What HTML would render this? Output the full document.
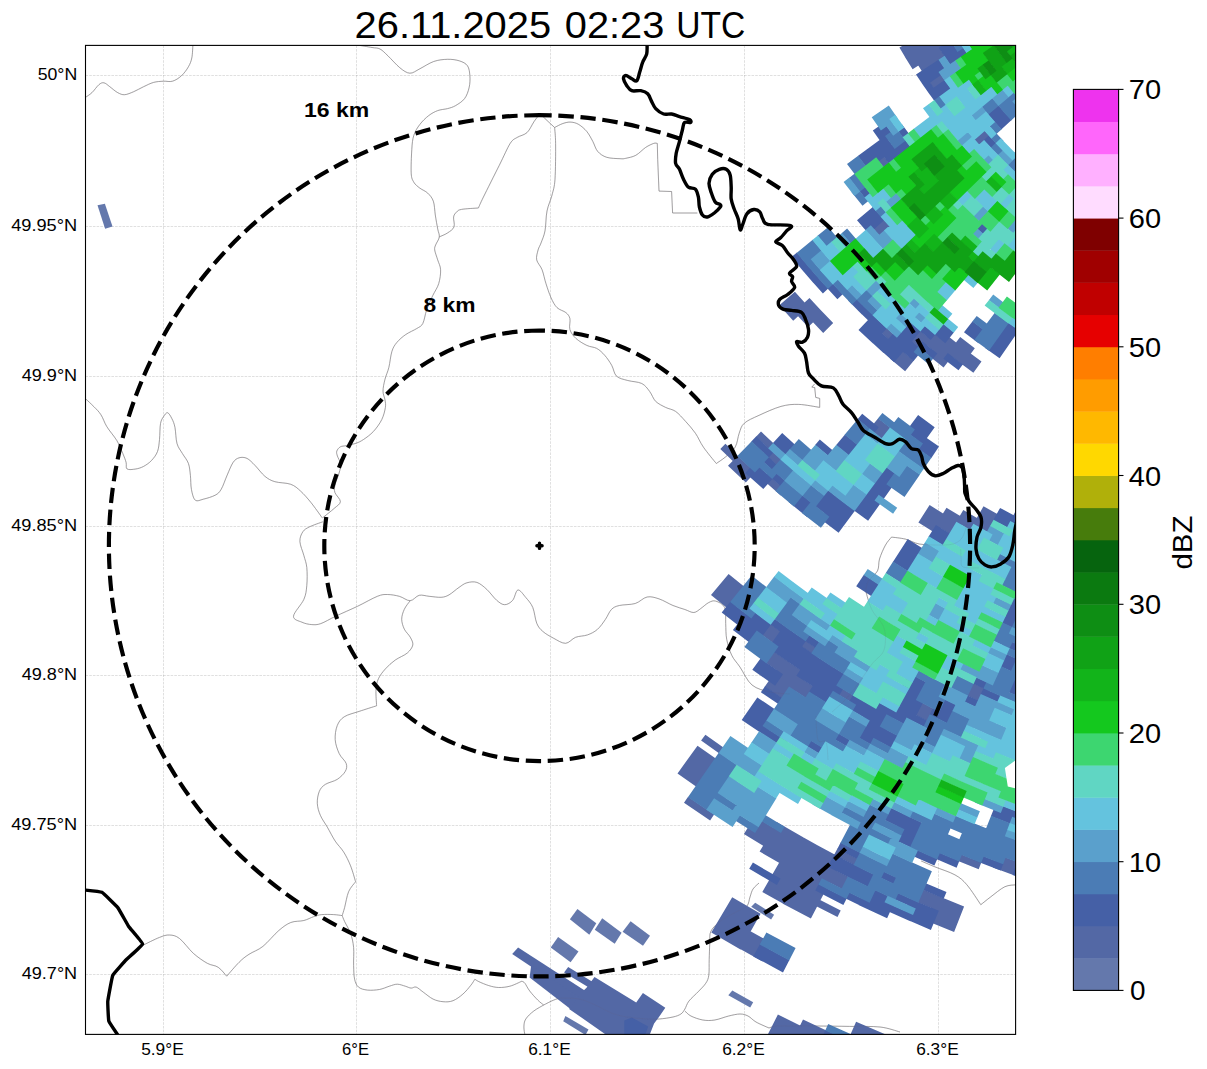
<!DOCTYPE html>
<html><head><meta charset="utf-8"><title>radar</title>
<style>
html,body{margin:0;padding:0;background:#fff;}
body{width:1207px;height:1069px;overflow:hidden;font-family:"Liberation Sans",sans-serif;}
svg{display:block;font-family:"Liberation Sans",sans-serif;}
</style></head><body>
<svg width="1207" height="1069" viewBox="0 0 1207 1069">
<rect width="1207" height="1069" fill="#fff"/>
<defs><clipPath id="ax"><rect x="85.5" y="45.4" width="930.1" height="989.0000000000001"/></clipPath></defs>
<g clip-path="url(#ax)">
<path d="M163.5 45.4V1034.4M356.5 45.4V1034.4M550.5 45.4V1034.4M744.5 45.4V1034.4M938.5 45.4V1034.4M85.5 75.5H1015.6M85.5 226.5H1015.6M85.5 376.5H1015.6M85.5 526.5H1015.6M85.5 675.5H1015.6M85.5 825.5H1015.6M85.5 974.5H1015.6" fill="none" stroke="#808080" stroke-opacity="0.42" stroke-width="0.6" stroke-dasharray="2.6 1.1"/>
<path d="M85.6 97.3C86.6 96.5 89.7 94.8 91.9 92.7C94.1 90.6 96.9 86.4 98.9 84.7C100.9 83.0 102.1 82.5 103.9 82.8C105.7 83.1 107.5 85.0 109.8 86.7C112.1 88.4 115.3 91.4 117.8 92.7C120.3 94.0 122.1 94.9 124.7 94.7C127.3 94.5 130.5 93.0 133.7 91.7C136.8 90.4 140.3 88.2 143.6 86.7C146.9 85.2 150.3 83.3 153.6 82.4C156.9 81.5 160.3 81.4 163.5 81.2C166.7 81.0 169.5 82.1 172.5 81.2C175.5 80.3 178.8 78.2 181.4 75.8C184.1 73.4 186.7 69.8 188.4 66.8C190.1 63.8 191.1 61.5 191.8 57.9C192.6 54.3 192.7 47.1 192.9 45.0M357.0 45.0C359.5 45.4 368.2 46.8 372.0 47.5C375.8 48.2 377.3 47.6 380.0 49.0C382.7 50.4 384.7 52.8 388.0 55.9C391.3 59.0 396.3 64.9 399.9 67.8C403.5 70.7 406.5 73.0 409.8 73.2C413.1 73.4 415.8 70.8 419.8 68.8C423.8 66.8 429.1 63.1 433.7 61.5C438.3 59.9 443.3 59.4 447.6 59.3C451.9 59.2 456.2 59.8 459.5 60.9C462.8 62.0 465.8 63.3 467.5 65.8C469.2 68.3 469.6 72.1 469.9 75.8C470.2 79.5 470.0 83.9 469.1 87.7C468.2 91.5 466.8 95.7 464.5 98.7C462.2 101.7 458.4 103.9 455.6 105.6C452.8 107.2 450.6 107.8 447.6 108.6C444.6 109.4 440.9 109.4 437.7 110.6C434.5 111.8 431.7 113.3 428.7 115.6C425.7 117.9 422.3 121.2 419.8 124.5C417.3 127.8 415.1 131.2 413.8 135.4C412.5 139.6 412.2 143.1 411.8 149.4C411.4 155.7 410.9 167.7 411.2 173.2C411.5 178.7 412.4 179.7 413.8 182.2C415.2 184.7 417.5 186.3 419.8 188.1C422.1 189.9 425.4 190.9 427.7 193.1C429.9 195.3 432.0 197.4 433.3 201.1C434.6 204.8 434.6 210.4 435.3 215.0C436.0 219.6 437.0 225.2 437.7 228.9C438.4 232.6 439.6 234.2 439.3 236.9C439.0 239.6 436.5 242.6 435.7 244.8C434.9 247.0 434.4 247.4 434.7 249.9C435.0 252.4 436.7 256.6 437.7 259.9C438.7 263.2 440.4 265.8 440.6 269.8C440.8 273.8 440.0 279.4 438.7 283.7C437.4 288.0 434.7 291.4 432.7 295.7C430.7 300.0 428.3 305.0 426.7 309.6C425.1 314.2 424.4 320.4 422.8 323.5C421.2 326.6 419.6 326.7 416.8 328.5C414.0 330.3 409.1 332.2 405.8 334.5C402.5 336.8 399.2 339.6 396.9 342.4C394.6 345.2 393.2 347.2 391.9 351.4C390.6 355.5 390.0 362.7 388.9 367.3C387.8 371.9 386.0 375.2 385.0 379.2C384.0 383.2 383.0 387.6 383.0 391.1C383.0 394.6 384.6 397.3 385.0 400.0C385.4 402.7 385.9 404.1 385.4 407.3C384.9 410.6 383.8 415.4 381.8 419.5C379.8 423.6 376.4 428.3 373.3 431.6C370.2 434.9 366.4 437.6 363.5 439.5C360.6 441.4 359.0 442.2 356.2 443.2C353.4 444.2 349.1 445.0 346.5 445.6C343.9 446.2 342.0 445.9 340.4 446.8C338.8 447.7 337.3 449.6 336.8 451.1C336.3 452.6 336.8 454.0 337.4 456.0C338.0 458.0 340.0 460.9 340.4 463.3C340.8 465.7 340.3 468.2 339.8 470.6C339.3 473.0 338.2 475.5 337.4 477.9C336.6 480.3 335.3 482.8 334.9 485.2C334.5 487.6 334.0 489.8 334.9 492.5C335.8 495.2 340.5 499.0 340.4 501.6C340.3 504.2 337.3 505.6 334.3 508.3C331.3 511.0 324.6 516.2 322.6 517.8M439.3 236.9C440.7 236.2 445.2 234.6 447.6 232.9C450.1 231.2 453.0 229.6 454.0 226.9C455.0 224.2 453.2 219.5 453.6 217.0C454.0 214.5 455.3 213.3 456.6 212.0C457.9 210.7 457.9 210.1 461.5 209.4C465.1 208.7 475.6 208.2 478.4 208.0M478.4 208.0C479.2 206.2 479.9 204.2 483.4 197.1C486.9 190.0 494.8 174.2 499.3 165.3C503.8 156.4 507.2 148.1 510.2 143.4C513.2 138.8 514.4 139.2 517.2 137.4C520.0 135.6 524.3 135.2 527.1 132.5C529.9 129.8 531.9 124.7 534.1 121.5C536.3 118.3 539.1 114.9 540.1 113.6M540.1 113.6C541.1 114.6 543.6 117.2 546.0 119.5C548.4 121.8 553.2 126.2 554.6 127.5M554.6 127.5C556.0 126.8 560.2 124.4 562.9 123.5C565.6 122.6 568.2 121.9 570.9 122.1C573.5 122.3 576.1 122.9 578.8 124.5C581.4 126.1 584.5 128.7 586.8 131.5C589.1 134.3 591.0 138.1 592.8 141.4C594.6 144.7 595.4 148.8 597.7 151.4C600.0 154.1 603.0 156.1 606.7 157.3C610.4 158.5 616.8 158.5 620.0 158.7C623.2 158.9 623.2 158.9 625.8 158.3C628.4 157.7 632.5 157.1 635.8 155.3C639.1 153.5 642.7 149.4 645.7 147.4C648.7 145.4 651.8 144.1 653.7 143.4C655.6 142.7 656.7 143.4 657.3 143.4M554.6 127.5C554.8 130.2 555.5 134.8 555.6 143.4C555.7 152.0 555.6 170.6 555.0 179.2C554.4 187.8 553.3 189.8 552.0 195.1C550.7 200.4 548.2 205.0 547.0 211.0C545.8 217.0 546.0 225.6 545.0 230.9C544.0 236.2 542.2 239.6 541.1 242.8C540.0 246.0 538.8 247.1 538.1 249.9C537.4 252.8 536.0 256.6 536.7 259.9C537.4 263.2 540.6 265.8 542.1 269.8C543.6 273.8 544.5 279.1 546.0 283.7C547.5 288.3 549.2 293.7 551.0 297.7C552.8 301.7 554.5 305.1 557.0 307.6C559.5 310.1 563.8 310.8 565.9 312.6C568.0 314.4 569.2 315.7 569.9 318.5C570.6 321.3 568.9 326.2 569.9 329.5C570.9 332.8 573.1 335.8 575.9 338.4C578.7 341.0 583.3 343.7 586.8 345.4C590.3 347.1 593.7 346.8 596.7 348.4C599.7 350.0 602.2 352.5 604.7 355.3C607.2 358.1 609.7 361.8 611.7 365.3C613.7 368.8 613.9 373.7 616.6 376.2C619.3 378.7 623.6 379.3 627.8 380.5C632.0 381.7 638.1 381.7 641.8 383.5C645.4 385.3 647.4 388.5 649.7 391.5C652.0 394.5 653.1 398.8 655.7 401.4C658.4 404.0 662.3 405.7 665.6 407.4C668.9 409.1 672.3 409.1 675.6 411.4C678.9 413.7 682.2 417.7 685.5 421.3C688.8 424.9 692.4 428.9 695.4 433.2C698.4 437.5 699.9 442.1 703.4 447.1C706.9 452.2 714.1 460.8 716.3 463.5M716.3 463.5C717.8 462.4 722.1 459.8 725.3 457.1C728.4 454.4 732.9 451.1 735.2 447.1C737.5 443.1 737.7 437.2 739.2 433.2C740.7 429.2 740.9 426.3 744.2 423.3C747.5 420.3 753.0 418.1 759.1 415.3C765.2 412.5 774.4 408.2 781.0 406.4C787.6 404.6 792.3 404.2 798.8 404.4C805.2 404.6 816.2 406.9 819.7 407.4M85.6 398.8C87.0 400.1 91.4 404.1 93.9 406.7C96.5 409.3 98.8 411.4 100.9 414.7C103.1 418.0 104.2 422.3 106.8 426.6C109.4 430.9 114.1 436.0 116.8 440.5C119.5 445.0 121.2 449.9 122.8 453.5C124.3 457.1 125.4 459.8 126.1 462.4C126.8 465.0 125.5 467.9 127.1 469.0C128.7 470.1 132.9 469.4 135.7 469.0C138.4 468.6 140.9 467.8 143.6 466.4C146.2 465.0 149.3 462.9 151.6 460.4C153.9 457.9 156.2 455.0 157.5 451.5C158.8 448.0 159.0 444.1 159.5 439.5C160.0 434.9 159.8 427.4 160.5 423.6C161.2 419.8 162.3 418.5 163.5 416.7C164.7 414.9 166.1 412.4 167.5 412.7C168.9 413.0 170.7 416.2 171.9 418.7C173.2 421.2 174.2 423.5 175.0 427.6C175.8 431.7 175.8 439.2 177.0 443.5C178.2 447.8 180.5 450.2 182.4 453.5C184.3 456.8 187.1 459.8 188.4 463.4C189.7 467.0 189.9 471.0 190.4 475.3C190.9 479.6 190.6 485.2 191.4 489.3C192.2 493.4 193.3 498.6 195.3 500.2C197.3 501.8 200.0 500.0 203.3 499.2C206.6 498.4 212.2 496.8 215.2 495.2C218.2 493.6 219.2 492.6 221.2 489.3C223.2 486.0 225.1 479.8 227.1 475.3C229.1 470.8 231.1 465.3 233.1 462.4C235.1 459.5 236.8 458.5 239.1 457.8C241.4 457.1 244.3 457.1 247.0 458.4C249.7 459.7 252.0 462.4 255.0 465.4C258.0 468.4 261.6 473.6 264.9 476.3C268.2 479.0 270.6 480.4 274.9 481.7C279.2 483.0 286.5 482.7 290.8 484.3C295.1 485.9 297.4 488.2 300.7 491.2C304.0 494.2 307.1 497.8 310.7 502.2C314.3 506.6 320.3 515.2 322.2 517.8M322.8 521.8C320.6 522.6 313.1 525.1 309.8 526.7C306.5 528.4 304.5 529.2 302.9 531.7C301.2 534.2 299.7 537.6 299.9 541.6C300.1 545.6 302.8 551.3 303.9 555.6C305.0 559.9 306.3 562.5 306.8 567.5C307.3 572.5 307.3 580.1 306.8 585.4C306.3 590.7 306.1 594.2 303.9 599.3C301.7 604.4 293.8 612.4 293.5 616.2C293.2 620.0 298.8 620.8 301.9 622.2C304.9 623.6 308.6 624.4 311.8 624.6C315.0 624.8 316.8 625.0 320.8 623.6C324.8 622.2 329.6 619.1 335.7 616.2C341.8 613.3 350.6 609.6 357.5 606.3C364.4 603.0 372.4 598.3 377.4 596.3C382.4 594.3 383.8 594.5 387.4 594.5C391.0 594.5 395.5 595.3 399.3 596.3C403.1 597.3 406.9 600.9 410.2 600.7C413.5 600.5 416.0 596.0 419.2 595.3C422.4 594.6 425.5 596.0 429.1 596.3C432.8 596.6 437.8 597.5 441.1 597.3C444.4 597.1 446.0 596.5 449.0 594.9C452.0 593.2 456.0 589.4 459.0 587.4C462.0 585.4 463.9 583.6 466.9 582.8C469.9 582.0 473.6 581.3 476.9 582.4C480.2 583.5 483.5 586.4 486.8 589.4C490.1 592.4 493.7 597.8 496.7 600.3C499.7 602.8 502.0 604.7 504.7 604.7C507.4 604.7 510.5 602.8 512.7 600.3C514.9 597.8 515.7 590.5 517.9 590.0C520.1 589.5 523.3 594.6 525.8 597.5C528.3 600.4 531.0 603.2 532.8 607.5C534.6 611.8 535.1 619.4 536.8 623.4C538.5 627.4 540.0 628.9 542.8 631.4C545.6 633.9 549.9 636.3 553.7 638.3C557.5 640.3 562.0 643.5 565.6 643.3C569.2 643.1 572.0 638.7 575.6 637.3C579.2 635.9 583.9 636.2 587.5 634.9C591.1 633.6 594.4 632.0 597.4 629.4C600.4 626.8 603.1 622.7 605.4 619.4C607.7 616.1 609.1 611.8 611.4 609.5C613.7 607.2 615.3 606.5 619.3 605.5C623.3 604.5 630.6 604.9 635.2 603.5C639.8 602.1 643.1 597.8 647.1 597.0C651.1 596.2 654.8 597.5 659.1 598.9C663.4 600.3 668.7 603.7 673.0 605.5C677.3 607.3 681.4 608.3 684.9 609.5C688.4 610.7 691.2 612.7 693.9 612.5C696.5 612.3 698.3 610.2 700.8 608.5C703.3 606.8 706.3 603.7 708.8 602.5C711.3 601.3 713.1 600.3 715.7 601.1C718.4 601.9 723.0 603.8 724.7 607.5C726.4 611.2 725.4 618.1 725.7 623.4C726.0 628.7 725.7 634.0 726.7 639.3C727.7 644.6 729.5 650.6 731.7 655.2C733.9 659.8 736.6 662.1 740.0 667.1C743.4 672.1 747.0 680.9 752.0 685.0C757.0 689.1 763.7 690.5 770.0 692.0C776.3 693.5 786.7 693.7 790.0 694.0M410.2 600.7C409.2 602.1 405.7 606.2 404.3 609.3C402.9 612.4 401.7 615.9 401.7 619.2C401.7 622.5 402.9 626.1 404.3 629.1C405.7 632.1 408.8 634.5 410.2 637.1C411.6 639.8 413.3 642.4 412.8 645.0C412.3 647.6 410.2 650.5 407.3 653.0C404.4 655.5 399.0 657.4 395.3 660.0C391.6 662.6 388.2 665.8 385.4 668.9C382.6 672.0 380.0 675.3 378.4 678.8C376.8 682.3 376.3 685.5 376.0 690.0C375.7 694.5 376.5 703.2 376.6 705.8M376.6 705.8C373.7 706.7 364.5 709.6 359.1 711.4C353.7 713.2 347.9 714.4 344.2 716.8C340.5 719.2 338.7 721.9 337.2 725.7C335.7 729.5 334.9 735.1 335.2 739.7C335.5 744.4 337.4 749.6 339.2 753.6C341.0 757.6 345.2 760.5 346.2 763.5C347.2 766.5 346.7 768.9 345.2 771.5C343.7 774.1 340.5 777.2 337.2 779.4C333.9 781.5 328.3 782.4 325.3 784.4C322.3 786.4 320.6 788.2 319.3 791.4C318.0 794.5 317.1 799.3 317.3 803.3C317.5 807.3 318.6 811.2 320.3 815.2C322.0 819.2 324.8 822.8 327.3 827.1C329.8 831.4 332.5 837.0 335.2 841.1C337.9 845.2 341.0 847.8 343.6 851.9C346.2 856.0 348.6 860.9 350.6 865.9C352.6 870.9 354.8 879.1 355.6 881.8M355.6 881.8C354.4 883.4 350.4 887.4 348.6 891.7C346.8 896.0 345.7 903.6 344.6 907.6C343.5 911.6 342.6 914.3 342.2 915.6M342.2 915.6C340.8 915.4 337.1 914.8 333.7 914.6C330.3 914.4 325.1 914.3 321.8 914.6C318.5 914.9 316.8 915.6 313.8 916.6C310.8 917.6 307.7 919.5 303.9 920.5C300.1 921.5 295.0 920.8 290.8 922.5C286.6 924.2 283.5 926.5 278.8 930.5C274.1 934.5 267.9 942.4 262.9 946.4C257.9 950.4 253.0 951.6 249.0 954.3C245.0 956.9 242.8 958.6 239.1 962.3C235.4 965.9 228.8 973.9 226.7 976.2M226.7 976.2C225.3 974.7 221.4 969.4 218.2 967.3C215.0 965.1 211.5 965.6 207.3 963.3C203.2 961.0 198.0 957.4 193.3 953.3C188.7 949.1 183.4 941.4 179.4 938.4C175.4 935.4 172.8 935.2 169.5 935.0C166.2 934.8 164.0 935.7 159.5 937.4C155.0 939.1 145.4 944.1 142.6 945.4M342.2 915.6C342.6 916.6 343.2 918.5 344.6 921.5C346.0 924.5 349.1 929.2 350.6 933.5C352.1 937.8 353.1 942.1 353.6 947.4C354.1 952.7 353.4 960.0 353.6 965.3C353.8 970.6 353.8 975.6 354.6 979.2C355.4 982.8 356.4 985.3 358.5 987.1C360.6 988.9 364.0 989.7 367.5 990.1C371.0 990.5 375.8 990.1 379.4 989.5C383.0 988.9 386.4 987.1 389.4 986.2C392.4 985.3 394.6 984.2 397.3 984.2C400.0 984.2 403.0 985.6 405.3 986.2C407.6 986.9 409.4 988.0 411.2 988.1C413.0 988.2 414.2 986.4 416.2 987.1C418.2 987.8 420.4 990.1 423.2 992.1C426.0 994.1 429.8 997.5 433.1 999.1C436.4 1000.7 439.7 1001.4 443.0 1001.7C446.3 1002.0 449.7 1002.0 453.0 1000.7C456.3 999.4 459.9 996.7 462.9 994.1C465.9 991.5 468.9 987.7 470.9 985.2C472.9 982.7 474.2 980.2 474.9 979.2M474.9 979.2C475.5 979.6 476.5 980.5 478.8 981.6C481.1 982.7 485.5 984.6 488.8 985.6C492.1 986.6 495.2 987.4 498.7 987.5C502.2 987.6 506.0 987.2 509.9 986.2C513.8 985.2 519.9 982.0 521.9 981.2M521.9 981.2C522.4 981.5 523.6 981.6 524.9 983.2C526.2 984.9 527.6 988.3 529.8 991.1C531.9 993.9 535.5 997.8 537.8 1000.1C540.1 1002.4 542.7 1004.2 543.7 1005.0M543.7 1005.0C542.1 1006.0 536.8 1008.7 533.8 1011.0C530.8 1013.3 527.4 1016.4 525.8 1019.0C524.1 1021.6 524.0 1024.2 523.9 1026.9C523.8 1029.6 524.7 1033.7 524.9 1035.0M543.7 1005.0C545.4 1004.2 550.7 1001.2 553.7 1000.1C556.7 999.0 557.3 998.3 561.6 998.1C565.9 997.9 573.9 998.0 579.5 999.1C585.1 1000.2 590.1 1002.7 595.4 1005.0C600.7 1007.3 606.1 1011.0 611.4 1013.0C616.7 1015.0 621.3 1016.0 627.3 1017.0C633.2 1018.0 641.8 1018.7 647.1 1019.0C652.4 1019.3 654.8 1019.3 659.1 1019.0C663.4 1018.7 669.4 1017.8 673.0 1017.0C676.6 1016.2 678.9 1015.3 680.9 1014.0C682.9 1012.7 683.6 1011.1 684.9 1009.0C686.2 1006.9 686.6 1004.1 688.9 1001.1C691.2 998.1 696.0 994.1 698.8 991.1C701.6 988.1 704.1 985.9 705.8 983.2C707.5 980.6 708.2 979.2 708.8 975.2C709.4 971.2 709.0 964.6 709.2 959.3C709.4 954.0 709.5 948.1 709.8 943.4C710.1 938.7 709.0 934.9 711.0 931.0C713.0 927.1 717.5 923.3 722.0 920.0C726.5 916.7 733.8 913.3 738.0 911.0C742.2 908.7 745.0 908.3 747.0 906.0C749.0 903.7 749.0 899.8 750.0 897.0C751.0 894.2 751.5 891.3 753.0 889.0C754.5 886.7 758.0 884.0 759.0 883.0M684.9 1011.0C685.9 1011.8 687.9 1014.5 690.9 1016.0C693.9 1017.5 698.8 1019.3 702.8 1020.0C706.8 1020.7 710.5 1020.7 714.8 1020.0C719.1 1019.3 724.5 1017.0 728.7 1016.0C732.9 1015.0 736.8 1014.0 740.0 1014.0C743.2 1014.0 745.3 1014.7 748.0 1016.0C750.7 1017.3 752.5 1020.0 756.0 1022.0C759.5 1024.0 766.8 1027.0 769.0 1028.0M769.0 1028.0C770.2 1027.7 772.5 1026.3 776.0 1026.0C779.5 1025.7 783.4 1026.0 790.0 1026.0C796.6 1026.0 805.9 1025.9 815.8 1026.0C825.7 1026.1 838.9 1026.2 849.6 1026.4C860.3 1026.6 871.6 1026.1 880.0 1027.0C888.4 1027.9 896.7 1031.2 900.0 1032.0M921.2 861.0C923.5 862.0 929.4 864.6 935.0 866.9C940.6 869.2 949.7 871.9 955.0 874.9C960.3 877.9 962.6 879.8 966.9 884.8C971.2 889.8 978.5 901.4 980.8 904.7M980.8 904.7C982.5 903.4 986.8 899.8 990.8 896.8C994.8 893.8 1000.5 888.8 1004.7 886.8C1008.9 884.8 1014.1 885.1 1016.0 884.8M865.6 590.8C866.1 589.1 866.6 584.1 868.6 580.8C870.6 577.5 875.7 574.5 877.5 570.9C879.3 567.3 878.2 563.3 879.5 559.0C880.8 554.7 883.5 548.6 885.5 545.0C887.5 541.4 890.5 538.4 891.5 537.1M891.5 537.1C893.8 537.4 900.8 538.0 905.4 539.1C910.0 540.2 913.7 543.0 919.3 544.0C924.9 545.0 933.6 545.0 939.2 545.0C944.8 545.0 949.5 545.0 953.1 544.0C956.8 543.0 959.1 541.2 961.1 539.1C963.1 537.0 964.0 533.8 965.0 531.1C966.0 528.5 966.7 524.5 967.0 523.2M960.7 549.0C960.8 550.7 960.7 556.0 961.1 559.0C961.5 562.0 960.1 565.4 963.1 566.9C966.1 568.4 976.4 567.7 979.0 567.9M865.6 590.8C866.7 594.0 868.9 603.8 872.0 610.0C875.1 616.2 882.0 621.3 884.0 628.0C886.0 634.7 886.0 644.0 884.0 650.0C882.0 656.0 876.3 658.3 872.0 664.0C867.7 669.7 862.5 678.0 858.0 684.0C853.5 690.0 849.3 695.3 845.0 700.0C840.7 704.7 834.2 710.0 832.0 712.0M816.0 716.0C816.3 720.0 816.3 735.7 818.0 740.0C819.7 744.3 824.3 738.7 826.0 742.0C827.7 745.3 827.7 757.0 828.0 760.0M657.3 143.4L657.7 159.3L659.0 191.1L671.6 191.5L672.6 213.0L697.4 213.0M819.7 407.4L819.7 398.4L815.7 397.4L814.7 387.5L811.8 387.1L814.7 383.9" fill="none" stroke="#858585" stroke-width="0.7"/>
<g><path d="M1043.0 813.8L1038.4 826.9L1012.0 817.3L1017.0 804.2ZM1025.1 864.6L1020.5 877.7L992.9 867.6L997.8 854.6ZM981.3 862.6L978.7 869.3L951.3 858.2L954.2 851.6ZM964.1 906.5L954.1 932.0L925.2 920.3L935.9 895.0ZM943.9 898.3L938.6 911.2L910.2 899.1L915.9 886.4ZM887.4 1035.2L879.5 1054.3L847.7 1040.7L856.1 1021.8ZM990.3 691.1L984.5 703.8L961.2 692.8L967.3 680.3ZM834.4 1034.2L825.8 1053.0L794.0 1038.1L803.0 1019.5ZM809.1 1029.9L797.3 1054.6L765.5 1039.0L777.9 1014.5ZM1038.4 512.8L1029.2 531.3L1010.1 521.5L1019.7 503.2ZM939.5 711.7L933.3 724.2L909.5 712.0L916.0 699.6ZM864.6 862.3L861.4 868.8L834.1 854.8L837.5 848.4ZM855.7 880.4L849.4 892.9L821.5 878.6L828.1 866.3ZM840.7 910.5L837.5 917.0L809.0 902.4L812.4 896.0ZM842.1 858.4L810.9 918.6L782.4 903.4L815.1 844.0ZM1002.2 516.7L992.4 534.9L973.2 524.2L983.5 506.3ZM822.8 848.2L790.5 907.8L762.3 892.1L796.0 833.2ZM771.5 942.9L761.7 961.1L732.1 944.6L742.4 926.7ZM982.2 521.1L975.3 533.2L956.2 522.1L963.3 510.1ZM803.6 837.6L786.8 867.3L759.6 851.5L777.1 822.2ZM760.6 913.8L740.5 949.4L711.3 932.4L732.2 897.3ZM965.3 519.1L954.8 536.9L935.6 525.3L946.5 507.8ZM859.6 699.0L856.0 705.2L832.7 691.2L836.5 685.0ZM781.2 832.5L770.8 850.3L743.9 834.1L754.8 816.5ZM948.3 516.8L937.6 534.4L918.4 522.4L929.6 505.0ZM819.5 690.2L812.0 702.0L788.8 686.9L796.5 675.3ZM821.6 651.5L817.6 657.5L795.5 642.5L799.6 636.6ZM806.8 674.0L788.0 702.5L764.7 686.7L784.2 658.7ZM714.1 814.4L710.1 820.4L684.0 802.7L688.1 796.8ZM790.6 663.1L782.8 674.6L760.2 658.8L768.4 647.5ZM729.8 752.0L725.7 757.9L701.1 740.6L705.4 734.8ZM722.2 763.1L702.8 791.2L677.5 773.4L697.5 745.7ZM981.5 361.4L973.4 372.7L958.2 361.6L966.6 350.5ZM786.4 635.6L778.3 646.9L756.5 631.0L764.8 619.8ZM974.8 348.2L962.5 364.9L947.5 353.5L960.2 337.1ZM960.2 345.7L943.6 367.5L928.5 355.6L945.7 334.3ZM894.8 431.2L886.3 442.3L869.4 429.0L878.2 418.2ZM945.7 342.8L937.0 353.8L922.2 341.8L931.2 331.1ZM749.0 590.6L732.0 612.1L711.0 595.0L728.6 574.0ZM931.0 339.7L922.1 350.5L907.5 338.1L916.6 327.5ZM913.9 360.5L905.1 371.3L889.9 358.5L899.0 347.9ZM785.4 489.9L780.7 495.4L762.6 479.5L767.4 474.1ZM897.2 337.4L892.4 342.8L878.0 329.7L882.9 324.4ZM785.9 463.5L781.1 469.0L763.6 453.1L768.5 447.8ZM778.0 447.4L773.1 452.7L756.0 436.7L761.0 431.5ZM755.3 472.2L745.8 482.5L728.0 465.8L737.7 455.8ZM742.7 460.5L737.7 465.8L720.3 448.9L725.4 443.7ZM833.2 323.1L823.2 332.9L809.0 318.1L819.2 308.6ZM823.2 312.8L808.2 327.0L794.1 311.9L809.5 298.0ZM991.8 138.4L981.5 147.8L971.8 137.0L982.3 127.8ZM892.7 229.4L882.4 238.9L870.5 225.6L881.0 216.4ZM808.4 306.8L793.2 320.8L779.3 305.3L794.9 291.7ZM891.7 166.3L886.1 170.8L875.8 157.6L881.6 153.2ZM947.0 83.2L935.7 91.4L927.4 79.4L938.9 71.6ZM946.7 59.1L923.9 74.2L916.0 62.0L939.2 47.4ZM952.7 43.5L912.6 69.2L904.8 56.7L945.5 32.0ZM936.1 42.4L907.0 60.3L899.4 47.6L928.9 30.5ZM925.2 37.3L913.1 44.4L906.0 31.9L918.2 25.1Z" fill="#5368a5"/>
<path d="M1042.6 877.7L1040.3 884.5L1012.5 874.9L1015.0 868.1ZM1022.1 813.3L1017.2 826.4L990.9 816.3L996.1 803.3ZM1003.3 863.8L1000.7 870.6L973.3 860.0L976.0 853.3ZM1031.2 686.8L1025.9 699.7L1002.7 689.8L1008.3 677.0ZM959.3 861.0L956.6 867.7L929.3 856.0L932.2 849.4ZM946.5 892.1L943.7 898.8L915.7 886.8L918.6 880.2ZM938.8 910.8L930.9 929.9L902.1 917.6L910.4 898.7ZM1028.2 649.0L1025.4 655.7L1003.2 645.7L1006.3 639.2ZM1022.9 661.4L1017.3 674.2L994.7 664.1L1000.6 651.4ZM1006.8 698.4L1004.0 705.1L980.6 694.6L983.6 688.0ZM937.3 859.0L934.4 865.6L907.1 853.4L910.2 846.8ZM918.5 902.2L915.7 908.8L887.3 896.2L890.4 889.6ZM913.2 914.6L910.3 921.2L881.7 908.4L884.7 901.8ZM857.0 1044.2L851.4 1057.0L819.5 1042.7L825.4 1030.1ZM1029.2 605.3L1017.9 630.3L996.4 620.2L1008.3 595.5ZM993.0 684.9L990.0 691.5L967.0 680.7L970.2 674.2ZM984.7 703.3L981.7 709.9L958.2 698.9L961.4 692.4ZM929.0 825.9L917.7 850.8L890.8 838.2L902.7 813.5ZM904.0 881.0L901.0 887.6L873.2 874.6L876.4 868.1ZM895.6 899.4L887.1 918.2L858.5 904.9L867.6 886.2ZM962.3 707.7L953.4 726.4L929.5 714.7L938.8 696.3ZM910.2 817.1L904.2 829.7L877.9 816.8L884.2 804.4ZM881.3 877.9L875.3 890.5L847.5 876.9L853.8 864.4ZM869.8 902.2L866.7 908.8L838.4 894.9L841.6 888.4ZM933.5 723.7L930.3 730.2L906.4 717.9L909.8 711.5ZM867.6 856.3L864.4 862.8L837.3 848.9L840.6 842.5ZM861.6 868.3L855.4 880.8L827.8 866.7L834.3 854.4ZM846.7 898.5L843.4 905.0L815.3 890.5L818.6 884.1ZM1018.8 517.9L1012.4 530.3L993.3 520.1L1000.1 507.9ZM932.0 685.2L910.1 727.5L886.2 714.7L909.2 673.0ZM904.1 739.0L897.7 751.4L873.2 738.3L880.0 726.1ZM789.4 960.0L783.0 972.4L753.2 956.4L759.9 944.2ZM896.5 712.1L877.0 748.0L852.6 734.4L873.0 699.0ZM876.4 708.6L869.5 720.8L845.8 707.0L853.0 695.1ZM856.5 743.8L853.0 750.1L828.6 735.9L832.3 729.7ZM780.5 878.6L776.9 884.9L749.2 868.8L752.9 862.6ZM955.1 536.5L948.0 548.6L928.5 536.8L935.9 524.9ZM829.0 751.2L825.3 757.5L800.7 742.6L804.5 736.5ZM927.3 551.2L913.0 574.6L892.9 562.0L907.7 539.0ZM850.1 677.6L832.3 706.7L808.9 692.1L827.5 663.4ZM884.4 588.0L876.9 599.8L856.2 586.2L864.0 574.6ZM833.9 667.5L819.2 690.6L796.3 675.7L811.5 652.9ZM787.0 741.3L783.1 747.4L758.8 731.6L762.8 725.6ZM825.3 645.9L821.3 651.9L799.3 637.0L803.5 631.1ZM817.9 657.1L806.5 674.4L783.9 659.1L795.8 642.1ZM788.2 702.1L784.2 708.1L760.9 692.3L765.0 686.3ZM780.8 713.3L765.7 736.2L741.7 719.9L757.3 697.4ZM1019.0 330.1L999.6 358.2L984.8 347.8L1004.8 320.1ZM939.0 446.6L931.2 458.2L913.9 446.0L922.0 434.7ZM805.9 640.9L790.4 663.5L768.1 647.9L784.1 625.6ZM783.0 674.2L775.1 685.8L752.3 669.7L760.5 658.4ZM934.7 427.2L922.7 444.0L905.7 431.7L918.1 415.1ZM899.6 476.5L868.1 520.8L849.3 507.1L881.8 463.6ZM790.3 630.1L786.1 636.0L764.5 620.2L768.9 614.4ZM986.8 332.0L978.5 343.2L964.0 332.2L972.6 321.2ZM962.8 364.5L958.5 370.3L943.4 358.8L947.8 353.1ZM854.9 510.7L838.6 532.7L819.5 518.3L836.4 496.6ZM771.0 624.4L754.7 646.4L732.9 629.9L749.7 608.2ZM841.6 500.7L829.1 517.1L810.3 502.4L823.3 486.3ZM751.6 618.3L743.2 629.3L721.7 612.5L730.5 601.6ZM954.0 332.3L945.3 343.2L930.9 331.5L939.8 320.7ZM937.3 353.4L932.8 359.1L917.9 347.0L922.6 341.4ZM878.7 427.2L874.2 432.9L857.6 419.3L862.2 413.8ZM862.0 448.3L853.3 459.2L836.0 445.2L845.0 434.4ZM816.0 506.3L807.3 517.2L788.6 502.0L797.5 491.3ZM935.3 334.5L930.7 340.1L916.3 327.9L921.0 322.5ZM922.5 350.1L913.6 360.9L898.7 348.3L907.8 337.7ZM837.0 454.0L832.4 459.6L815.1 445.0L819.8 439.6ZM920.7 331.1L894.2 362.2L879.3 349.1L906.5 318.7ZM789.8 484.7L785.1 490.2L767.1 474.5L771.9 469.1ZM990.7 231.4L985.9 236.8L974.0 226.1L979.0 220.8ZM892.7 342.4L883.5 352.9L868.8 339.6L878.3 329.4ZM799.2 448.4L790.0 458.9L772.7 443.2L782.2 433.0ZM781.4 468.6L776.6 474.0L759.0 458.1L763.9 452.8ZM772.5 478.7L763.3 489.1L745.3 472.9L754.8 462.6ZM1032.2 169.2L1027.4 174.5L1017.0 164.8L1022.0 159.6ZM886.9 328.2L873.0 343.4L858.5 329.9L872.8 315.0ZM773.4 452.4L768.5 457.7L751.3 441.6L756.3 436.3ZM876.8 318.8L871.9 324.0L857.9 310.5L863.0 305.3ZM866.9 309.2L861.9 314.4L848.1 300.6L853.3 295.5ZM998.7 145.8L993.5 150.8L983.7 140.2L989.0 135.3ZM842.7 294.2L837.4 299.2L824.1 284.8L829.4 279.9ZM1011.6 120.1L1001.3 129.6L992.1 119.2L1002.6 110.0ZM828.2 288.6L822.9 293.5L809.7 278.7L815.1 274.0ZM1005.1 113.0L994.7 122.2L985.6 111.7L996.3 102.7ZM884.3 220.1L868.8 233.9L857.0 220.2L872.8 206.9ZM818.8 278.2L813.4 283.0L800.5 268.0L806.0 263.3ZM809.6 267.6L804.1 272.3L791.4 257.1L797.0 252.5ZM873.2 196.9L867.6 201.5L856.7 187.8L862.3 183.4ZM912.8 149.5L891.3 166.6L881.2 153.5L903.0 137.0ZM911.1 136.5L905.4 140.9L895.9 128.2L901.7 123.9ZM895.1 148.8L868.1 169.6L857.8 156.0L885.4 135.8ZM953.0 91.4L936.4 103.8L927.8 91.8L944.7 79.9ZM893.6 135.5L882.3 143.9L872.8 130.6L884.2 122.6ZM936.1 91.1L930.2 95.3L921.8 83.2L927.8 79.1ZM968.9 55.8L951.9 67.6L944.1 56.0L961.5 44.7ZM946.8 71.1L924.2 86.7L916.0 74.4L938.9 59.4ZM958.0 51.6L946.3 59.4L938.8 47.7L950.6 40.3ZM964.0 36.3L952.3 43.8L945.1 32.3L957.0 25.0ZM941.8 38.9L935.6 42.6L928.5 30.7L934.8 27.1Z" fill="#4560a6"/>
<path d="M1031.8 845.5L1024.9 865.0L997.7 855.0L1005.0 835.7ZM1017.4 826.0L1003.1 864.3L975.9 853.7L991.1 815.8ZM993.6 831.3L981.2 863.1L954.0 852.0L967.2 820.5ZM1041.5 661.9L1031.0 687.3L1008.1 677.5L1019.2 652.4ZM1026.1 699.3L1023.3 706.0L1000.0 696.0L1002.9 689.4ZM974.7 823.7L969.4 836.6L942.9 825.2L948.5 812.5ZM967.0 842.4L959.1 861.5L932.0 849.9L940.3 830.9ZM1038.9 624.3L1033.4 637.1L1011.7 627.4L1017.6 614.7ZM1030.9 642.9L1028.0 649.5L1006.0 639.6L1009.1 633.1ZM1025.6 655.2L1022.7 661.8L1000.4 651.8L1003.4 645.3ZM1017.5 673.7L1006.6 698.9L983.4 688.5L994.9 663.6ZM953.3 821.9L937.1 859.4L910.0 847.3L927.1 810.2ZM931.9 871.3L918.3 902.7L890.2 890.1L904.5 859.1ZM859.7 1038.1L856.8 1044.7L825.2 1030.5L828.2 1024.0ZM1040.4 580.8L1029.0 605.7L1008.1 595.9L1020.0 571.2ZM1018.1 629.8L1009.5 648.6L987.6 638.3L996.6 619.7ZM976.3 721.7L967.8 740.5L943.6 729.2L952.6 710.6ZM931.8 819.7L928.8 826.3L902.5 814.0L905.7 807.5ZM912.3 862.6L903.8 881.5L876.1 868.5L885.1 849.9ZM901.2 887.1L895.4 899.9L867.3 886.7L873.4 874.1ZM1028.7 567.9L1016.9 592.7L996.3 582.6L1008.7 558.1ZM973.8 683.4L967.8 696.0L944.7 684.7L951.0 672.2ZM953.6 726.0L941.8 750.7L917.4 738.7L929.7 714.3ZM904.5 829.3L901.3 835.8L874.8 822.8L878.1 816.4ZM898.7 841.5L895.6 848.0L868.8 834.8L872.0 828.4ZM887.1 865.8L881.1 878.4L853.6 864.9L859.9 852.4ZM875.6 890.1L869.6 902.7L841.4 888.9L847.7 876.4ZM1014.4 561.0L1011.2 567.5L991.2 557.2L994.6 550.8ZM951.5 687.5L939.3 712.1L915.8 700.1L928.6 675.8ZM888.6 814.1L867.4 856.7L840.4 842.9L862.6 800.8ZM849.7 892.5L846.4 898.9L818.4 884.6L821.8 878.2ZM935.1 679.2L931.8 685.6L908.9 673.4L912.4 667.1ZM910.3 727.0L903.9 739.4L879.7 726.5L886.5 714.3ZM897.9 750.9L894.6 757.3L870.0 744.2L873.5 737.8ZM863.8 816.6L860.5 823.0L834.3 809.0L837.8 802.7ZM795.6 948.0L789.2 960.4L759.7 944.6L766.4 932.4ZM877.2 747.6L873.8 753.9L849.3 740.3L852.9 734.0ZM866.4 726.2L856.3 744.2L832.0 730.2L842.6 712.4ZM853.2 749.7L849.7 756.0L825.1 741.7L828.8 735.5ZM866.5 687.4L859.4 699.4L836.2 685.4L843.6 673.6ZM856.2 704.8L852.6 711.0L829.1 696.9L832.9 690.7ZM839.2 733.8L828.7 751.7L804.3 736.9L815.2 719.3ZM784.6 826.7L781.0 832.9L754.6 816.9L758.4 810.8ZM913.3 574.2L906.0 586.1L885.6 573.3L893.1 561.6ZM857.1 666.1L849.8 678.0L827.2 663.8L834.8 652.1ZM832.5 706.3L807.7 746.9L783.4 731.7L809.2 691.6ZM758.8 826.9L755.1 833.1L728.7 816.5L732.6 810.4ZM844.7 650.5L833.6 667.9L811.2 653.3L822.8 636.1ZM812.2 701.6L797.5 724.7L773.8 709.2L789.0 686.4ZM790.6 735.7L786.7 741.8L762.5 726.0L766.6 720.0ZM743.7 809.5L739.8 815.6L713.8 798.7L717.8 792.7ZM743.7 769.5L713.8 814.8L687.9 797.2L718.9 752.6ZM931.4 457.7L923.5 469.3L906.0 456.9L914.2 445.6ZM920.0 474.4L904.5 497.0L886.3 484.2L902.3 462.0ZM813.5 629.8L805.6 641.3L783.9 626.1L792.0 614.7ZM1008.8 323.0L989.0 350.8L974.3 340.1L994.8 312.8ZM923.0 443.6L911.0 460.5L893.6 447.8L906.0 431.3ZM805.9 608.1L790.0 630.5L768.6 614.8L785.0 592.9ZM778.6 646.5L766.6 663.4L744.4 647.1L756.8 630.6ZM990.8 326.5L986.5 332.4L972.3 321.6L976.7 315.9ZM914.9 429.4L906.6 440.7L889.7 427.9L898.3 416.9ZM898.9 425.9L894.5 431.6L877.9 418.5L882.4 412.9ZM829.4 516.7L820.9 527.8L801.9 512.9L810.7 502.0ZM772.1 591.5L751.3 618.6L730.2 602.0L751.6 575.4ZM933.1 358.7L928.6 364.3L913.6 352.1L918.2 346.6ZM874.5 432.5L861.7 448.7L844.6 434.8L857.9 418.9ZM824.3 495.7L815.7 506.7L797.2 491.7L806.2 480.9ZM802.8 495.6L793.9 506.4L775.5 490.9L784.6 480.3ZM816.0 454.0L806.9 464.6L789.5 449.4L798.8 439.0ZM798.5 474.5L789.5 485.1L771.5 469.5L780.9 459.1ZM777.0 473.6L772.2 479.0L754.4 463.0L759.3 457.7ZM1027.7 174.2L1022.8 179.5L1012.3 169.7L1017.3 164.5ZM768.9 457.3L754.9 472.6L737.3 456.1L751.7 441.2ZM1024.9 162.4L1015.3 172.5L1005.0 162.5L1014.8 152.6ZM881.5 313.9L876.5 319.1L862.6 305.7L867.7 300.6ZM876.3 299.6L866.6 309.6L852.9 295.9L862.9 286.1ZM1005.8 153.1L1000.6 158.1L990.6 147.8L995.9 142.8ZM857.2 299.5L852.0 304.5L838.5 290.5L843.8 285.5ZM1032.8 113.3L1027.6 118.3L1018.6 108.6L1024.0 103.7ZM1003.6 141.1L998.4 146.1L988.7 135.7L994.0 130.8ZM847.6 289.6L842.3 294.6L829.1 280.3L834.4 275.4ZM1021.5 111.0L1011.2 120.5L1002.2 110.4L1012.7 101.2ZM1001.7 129.3L996.4 134.1L987.0 123.7L992.4 118.9ZM833.2 284.0L827.9 288.9L814.7 274.3L820.2 269.5ZM1020.2 99.6L1004.8 113.3L995.9 103.0L1011.7 89.7ZM889.3 215.7L883.9 220.5L872.4 207.2L878.0 202.6ZM859.1 242.5L853.7 247.3L841.6 233.3L847.1 228.6ZM823.9 273.7L818.5 278.5L805.6 263.7L811.1 259.0ZM998.8 105.7L988.2 114.7L979.3 104.1L990.1 95.3ZM840.3 241.4L829.7 250.4L817.5 235.8L828.3 227.0ZM825.0 254.5L809.2 267.9L796.6 252.9L812.7 239.8ZM868.0 201.2L862.5 205.8L851.4 192.0L857.0 187.5ZM865.4 187.3L859.8 191.8L849.0 177.9L854.8 173.6ZM948.5 107.7L942.7 112.2L933.9 100.4L939.7 96.1ZM905.8 140.6L894.7 149.1L885.0 136.1L896.3 127.9ZM868.5 169.3L857.4 177.8L847.0 163.9L858.2 155.7ZM969.2 44.2L957.5 51.9L950.2 40.5L962.0 33.1Z" fill="#4b7cb5"/>
<path d="M1038.5 826.5L1036.1 833.3L1009.6 823.6L1012.2 816.8ZM1034.1 839.2L1031.6 846.0L1004.8 836.2L1007.4 829.4ZM1040.4 712.3L1037.7 719.0L1014.0 709.4L1016.8 702.7ZM1003.5 806.2L1000.8 813.0L974.8 802.4L977.7 795.7ZM1021.0 711.7L1018.2 718.4L994.5 708.3L997.5 701.7ZM1013.3 730.4L1007.9 743.3L983.7 732.9L989.3 720.1ZM979.9 811.2L977.1 817.9L951.0 806.8L953.9 800.2ZM1033.6 636.7L1030.7 643.3L1008.9 633.5L1011.9 627.0ZM1004.2 704.6L990.6 735.9L966.5 725.1L980.8 694.1ZM985.4 747.8L977.2 766.8L952.3 755.7L961.0 736.9ZM956.0 815.8L953.1 822.4L926.9 810.6L929.9 804.1ZM915.8 908.4L913.0 915.0L884.5 902.3L887.6 895.7ZM1007.0 654.3L1004.0 660.9L981.7 650.4L984.8 643.9ZM998.6 672.7L992.8 685.4L970.0 674.7L976.0 662.1ZM981.9 709.5L976.1 722.2L952.4 711.0L958.5 698.5ZM968.0 740.1L965.0 746.7L940.6 735.2L943.8 728.7ZM917.9 850.4L912.1 863.1L884.9 850.3L891.0 837.8ZM1011.4 604.4L1008.3 610.9L987.2 600.6L990.5 594.2ZM979.6 671.3L976.5 677.8L953.8 666.7L957.1 660.2ZM968.0 695.6L962.0 708.2L938.6 696.7L944.9 684.2ZM942.0 750.3L938.9 756.8L914.3 744.7L917.6 738.3ZM913.1 811.1L910.0 817.6L883.9 804.8L887.2 798.4ZM901.6 835.4L898.5 841.9L871.8 828.8L875.1 822.4ZM890.0 859.7L886.9 866.2L859.6 852.8L862.9 846.4ZM930.5 729.7L918.3 754.3L893.8 741.7L906.6 717.5ZM915.6 759.9L909.4 772.4L884.4 759.6L890.9 747.2ZM891.6 808.1L888.4 814.6L862.4 801.2L865.8 794.8ZM1009.5 535.9L1003.1 548.3L983.6 537.8L990.3 525.6ZM894.8 756.9L891.5 763.3L866.8 750.1L870.2 743.7ZM866.9 810.6L863.6 817.1L837.5 803.1L841.0 796.8ZM860.7 822.6L857.4 829.0L831.1 814.9L834.5 808.6ZM950.9 611.4L944.3 623.7L923.0 611.8L929.9 599.7ZM874.0 753.5L870.6 759.8L846.0 746.1L849.5 739.8ZM845.2 806.7L838.6 819.0L812.5 804.5L819.4 792.4ZM869.8 720.4L866.2 726.7L842.4 712.8L846.1 706.6ZM944.8 553.9L937.8 566.0L917.8 553.9L925.2 542.1ZM876.7 670.0L873.0 676.2L850.4 662.6L854.2 656.4ZM869.9 681.6L866.2 687.8L843.3 674.0L847.1 667.9ZM846.0 722.2L838.9 734.2L814.9 719.7L822.3 707.9ZM825.5 757.0L821.9 763.3L797.2 748.3L801.0 742.2ZM864.1 654.6L856.8 666.5L834.5 652.5L842.1 640.8ZM776.4 798.2L758.6 827.3L732.3 810.8L750.8 782.1ZM888.0 582.3L884.2 588.4L863.7 575.0L867.7 569.0ZM848.3 644.8L844.5 650.9L822.5 636.5L826.5 630.5ZM797.8 724.3L790.3 736.1L766.3 720.4L774.0 708.8ZM783.4 747.0L775.9 758.8L751.3 742.8L759.1 731.2ZM768.9 769.7L761.5 781.5L736.3 765.1L744.1 753.5ZM754.5 792.5L743.4 809.9L717.6 793.1L729.1 775.9ZM740.1 815.2L732.6 827.0L706.3 809.8L714.1 798.2ZM836.4 629.0L832.4 635.1L810.9 620.4L815.0 614.5ZM829.0 640.3L825.0 646.3L803.2 631.5L807.3 625.6ZM754.9 752.6L743.5 769.9L718.6 753.0L730.4 736.0ZM923.8 468.8L919.7 474.8L902.0 462.4L906.3 456.5ZM897.2 507.7L893.1 513.7L874.5 500.6L878.7 494.7ZM821.1 618.7L813.2 630.2L791.7 615.1L799.9 603.8ZM911.3 460.1L899.3 476.9L881.5 464.0L893.9 447.4ZM809.8 602.7L805.6 608.5L784.7 593.3L789.0 587.5ZM1006.8 304.9L1002.5 310.7L988.8 300.3L993.2 294.6ZM882.9 472.8L874.6 484.0L856.7 470.4L865.2 459.4ZM866.9 494.4L854.6 511.1L836.0 497.0L848.7 480.7ZM795.0 591.9L786.7 603.1L765.9 587.4L774.4 576.3ZM886.6 441.9L882.2 447.6L865.2 434.3L869.7 428.6ZM845.7 495.3L841.3 501.1L823.0 486.7L827.5 481.1ZM853.6 458.8L840.8 475.0L823.1 460.7L836.3 444.8ZM828.5 490.5L824.0 496.1L805.8 481.3L810.5 475.8ZM1025.1 225.3L1016.2 236.1L1004.3 226.1L1013.4 215.5ZM832.7 459.2L819.6 475.2L801.9 460.3L815.4 444.7ZM811.3 485.2L802.5 496.0L784.3 480.7L793.4 470.1ZM929.4 320.8L924.8 326.3L910.7 314.0L915.5 308.6ZM807.2 464.2L802.5 469.8L785.0 454.4L789.8 449.0ZM986.3 236.5L981.5 241.9L969.5 231.0L974.4 225.7ZM923.9 307.1L919.1 312.5L905.4 300.1L910.3 294.8ZM910.6 322.2L905.8 327.7L891.7 314.9L896.6 309.6ZM901.7 332.3L896.9 337.8L882.5 324.8L887.4 319.5ZM790.3 458.5L785.5 463.9L768.1 448.2L773.1 442.9ZM991.4 213.9L982.0 224.2L970.4 213.4L980.0 203.3ZM886.1 309.0L881.1 314.3L867.4 300.9L872.5 295.8ZM1013.0 160.2L1007.9 165.4L997.7 155.2L1002.9 150.2ZM885.8 290.0L876.0 300.0L862.6 286.5L872.6 276.8ZM996.2 162.5L991.0 167.6L980.8 157.0L986.1 152.0ZM861.9 294.8L856.8 299.8L843.4 285.9L848.7 280.9ZM896.3 243.2L886.2 252.8L873.9 239.6L884.3 230.2ZM1031.4 101.9L1021.2 111.4L1012.3 101.5L1022.8 92.3ZM882.7 238.5L877.4 243.4L865.4 230.0L870.8 225.2ZM974.9 139.8L964.5 149.0L954.7 137.8L965.4 128.8ZM904.4 202.3L894.0 211.5L882.7 198.5L893.4 189.5ZM854.1 246.9L848.7 251.7L836.4 237.6L842.0 232.9ZM833.9 264.8L823.5 274.1L810.7 259.3L821.4 250.3ZM1009.0 96.9L998.4 106.0L989.7 95.6L1000.5 86.8ZM988.5 114.4L977.9 123.5L968.8 112.6L979.6 103.8ZM860.2 191.4L854.5 196.0L843.6 182.0L849.4 177.6ZM899.0 131.5L893.2 135.8L883.8 122.8L889.7 118.7ZM963.5 71.5L946.6 83.5L938.5 71.9L955.6 60.2ZM897.8 118.5L880.9 130.5L871.7 117.2L888.8 105.6ZM952.3 67.3L946.3 71.4L938.5 59.7L944.6 55.8Z" fill="#5aa0cc"/>
<path d="M1036.3 832.8L1033.9 839.6L1007.2 829.9L1009.8 823.1ZM1024.4 807.0L1021.9 813.8L995.9 803.8L998.6 797.0ZM1037.9 718.5L1020.5 762.8L995.7 752.8L1014.2 708.9ZM1023.5 705.5L1020.8 712.2L997.2 702.1L1000.2 695.5ZM1018.4 717.9L1013.1 730.8L989.1 720.6L994.7 707.8ZM1008.1 742.8L1000.2 761.9L975.5 751.4L983.9 732.4ZM977.3 817.5L974.6 824.2L948.3 812.9L951.2 806.3ZM990.8 735.5L987.9 742.1L963.7 731.2L966.7 724.7ZM1009.7 648.2L1006.7 654.8L984.6 644.4L987.8 637.9ZM1004.2 660.4L998.4 673.1L975.8 662.6L981.9 650.0ZM965.2 746.2L956.6 765.1L931.8 753.4L940.9 734.8ZM937.4 807.5L931.6 820.2L905.5 807.9L911.5 795.4ZM1040.3 543.6L1028.5 568.4L1008.5 558.6L1020.9 534.1ZM1005.6 616.6L1002.5 623.1L981.1 612.6L984.4 606.2ZM991.2 647.0L988.0 653.5L966.0 642.7L969.2 636.2ZM939.1 756.4L933.1 769.0L908.2 756.8L914.5 744.3ZM916.0 805.0L912.9 811.5L887.0 798.8L890.2 792.3ZM895.8 847.5L889.8 860.1L862.7 846.8L869.0 834.4ZM1029.4 530.9L1014.2 561.4L994.4 551.3L1010.3 521.1ZM1011.4 567.0L1005.2 579.5L984.9 569.1L991.4 556.8ZM999.4 591.1L981.2 627.7L959.8 616.7L978.9 580.6ZM978.5 633.3L975.3 639.8L953.5 628.6L956.9 622.2ZM963.5 663.4L957.3 675.9L934.7 664.4L941.2 652.0ZM918.6 753.8L915.3 760.3L890.7 747.7L894.0 741.3ZM997.1 559.8L990.7 572.2L970.6 561.4L977.3 549.2ZM987.8 577.7L969.0 614.0L947.9 602.7L967.6 566.9ZM966.1 619.5L959.7 631.9L938.2 620.4L944.9 608.1ZM891.7 762.9L885.3 775.2L860.3 761.9L867.0 749.6ZM870.0 804.7L866.7 811.1L840.8 797.2L844.3 790.9ZM992.6 534.5L969.9 576.4L949.7 565.1L973.4 523.8ZM954.1 605.5L950.7 611.9L929.6 600.1L933.2 593.9ZM944.5 623.3L941.1 629.6L919.6 617.7L923.2 611.4ZM934.9 641.0L931.5 647.4L909.6 635.2L913.2 628.9ZM922.1 664.7L912.3 682.9L889.5 670.2L899.8 652.3ZM909.3 688.4L905.8 694.7L882.8 681.9L886.4 675.6ZM899.7 706.1L896.2 712.5L872.7 699.4L876.3 693.1ZM870.8 759.4L861.0 777.6L835.9 763.6L846.2 745.7ZM848.4 800.8L845.0 807.2L819.2 792.8L822.8 786.5ZM975.6 532.8L965.4 550.8L945.8 539.4L956.4 521.7ZM962.3 556.2L955.5 568.4L935.5 556.8L942.6 544.8ZM949.1 579.7L942.3 591.8L921.7 579.9L928.9 567.9ZM912.7 644.2L902.6 662.2L880.3 649.2L890.9 631.5ZM896.2 673.5L882.7 697.3L859.6 683.9L873.7 660.4ZM849.9 755.5L839.7 773.5L814.8 759.0L825.4 741.3ZM948.3 548.1L944.6 554.4L924.9 542.5L928.8 536.3ZM938.0 565.5L927.6 583.4L907.2 571.1L918.1 553.5ZM914.2 606.1L907.1 618.2L885.9 605.4L893.3 593.5ZM873.3 675.8L869.6 682.0L846.9 668.3L850.7 662.1ZM852.8 710.6L845.7 722.6L822.0 708.3L829.4 696.4ZM822.1 762.8L818.5 769.1L793.6 754.0L797.4 747.9ZM801.7 797.6L798.0 803.9L772.3 788.4L776.1 782.2ZM902.7 591.4L888.4 614.8L867.3 601.6L882.2 578.5ZM808.0 746.5L804.2 752.7L779.8 737.3L783.7 731.2ZM801.0 758.0L797.2 764.2L772.5 748.6L776.4 742.5ZM783.4 786.7L776.1 798.6L750.6 782.5L758.1 770.8ZM851.9 639.1L848.1 645.2L826.2 630.9L830.3 624.9ZM776.2 758.4L768.7 770.2L743.8 753.9L751.6 742.3ZM851.3 606.6L847.3 612.6L826.2 598.4L830.4 592.4ZM843.8 617.8L836.2 629.5L814.7 614.9L822.7 603.5ZM832.7 634.7L828.7 640.7L807.0 626.0L811.1 620.0ZM1022.8 324.5L1018.7 330.5L1004.5 320.5L1008.7 314.6ZM832.5 602.1L824.6 613.6L803.5 598.8L811.7 587.5ZM813.7 597.2L809.5 603.1L788.7 587.9L793.1 582.1ZM906.9 440.3L894.6 456.9L877.3 443.8L890.0 427.5ZM874.9 483.6L866.6 494.8L848.4 481.1L857.0 470.0ZM799.0 586.5L794.7 592.3L774.1 576.7L778.6 571.0ZM787.0 602.7L778.7 613.9L757.6 598.0L766.2 587.0ZM775.0 619.0L770.7 624.8L749.4 608.6L753.8 602.9ZM1033.9 249.5L1029.5 255.2L1017.1 245.5L1021.7 239.9ZM882.5 447.2L861.8 474.4L844.1 460.5L865.5 433.9ZM853.9 484.6L845.4 495.7L827.2 481.5L836.0 470.6ZM1025.1 242.7L1016.5 253.6L1004.1 243.6L1013.1 232.9ZM958.2 327.0L953.7 332.7L939.5 321.1L944.1 315.6ZM841.1 474.7L828.2 490.9L810.2 476.2L823.4 460.3ZM1033.6 214.9L1024.7 225.7L1013.1 215.9L1022.2 205.3ZM1008.0 246.1L999.1 256.9L986.7 246.4L995.8 235.9ZM978.0 282.5L973.4 288.1L960.3 277.0L965.0 271.5ZM952.4 313.7L947.8 319.3L933.9 307.6L938.6 302.1ZM939.6 329.3L935.0 334.9L920.7 322.8L925.4 317.4ZM815.6 480.0L811.0 485.6L793.1 470.5L797.8 465.0ZM955.6 290.1L946.6 300.7L933.1 289.0L942.4 278.6ZM933.8 315.7L929.1 321.2L915.2 309.0L920.0 303.6ZM925.1 325.9L920.4 331.4L906.2 319.0L911.0 313.7ZM802.9 469.4L798.2 474.9L780.5 459.5L785.3 454.1ZM1035.2 181.0L1030.5 186.4L1019.8 176.7L1024.7 171.4ZM1017.4 201.1L1008.2 211.6L996.9 201.4L1006.4 191.2ZM919.5 312.2L910.2 322.6L896.3 310.0L905.7 299.7ZM906.1 327.3L901.3 332.7L887.1 319.9L892.0 314.6ZM1023.2 179.1L1018.3 184.5L1007.7 174.5L1012.7 169.3ZM1000.5 204.0L991.0 214.3L979.7 203.7L989.4 193.6ZM905.1 308.3L886.6 328.5L872.5 315.3L891.5 295.5ZM1029.5 157.5L1024.6 162.7L1014.5 153.0L1019.6 147.8ZM1015.6 172.2L1010.7 177.4L1000.2 167.3L1005.3 162.1ZM992.5 196.6L982.9 206.7L971.8 195.9L981.6 186.0ZM895.4 299.2L890.4 304.5L876.9 291.4L882.0 286.2ZM1017.7 155.4L1012.6 160.6L1002.6 150.5L1007.8 145.5ZM975.3 198.7L965.5 208.6L954.3 197.4L964.3 187.7ZM1010.6 148.3L1005.4 153.4L995.6 143.2L1000.8 138.2ZM1001.0 157.8L995.8 162.9L985.7 152.4L991.0 147.4ZM919.5 238.1L904.7 252.6L892.5 239.8L907.6 225.7ZM866.7 290.0L861.6 295.1L848.3 281.3L853.6 276.3ZM993.8 150.4L983.7 160.0L973.7 149.2L984.1 139.9ZM910.9 229.3L896.0 243.5L883.9 230.6L899.3 216.7ZM886.6 252.5L876.5 262.1L864.0 248.6L874.3 239.3ZM862.2 275.7L847.2 289.9L834.0 275.7L849.4 261.9ZM996.7 133.8L991.4 138.7L981.9 128.1L987.4 123.3ZM981.9 147.5L971.6 156.9L961.7 145.8L972.2 136.6ZM897.6 224.9L892.3 229.8L880.6 216.7L886.0 211.9ZM877.8 243.1L867.5 252.5L855.3 238.9L865.8 229.7ZM843.1 274.9L832.8 284.4L819.8 269.9L830.3 260.7ZM995.1 121.9L974.5 140.1L965.0 129.1L986.0 111.4ZM844.0 255.9L833.6 265.1L821.0 250.6L831.7 241.6ZM1014.1 92.5L1008.6 97.2L1000.1 87.1L1005.7 82.5ZM978.3 123.2L957.5 141.0L947.9 129.6L969.2 112.3ZM891.4 197.6L875.7 211.0L864.5 197.6L880.5 184.5ZM830.1 250.1L824.6 254.8L812.3 240.1L817.9 235.5ZM997.7 94.0L950.7 132.9L941.3 121.3L989.3 83.5ZM975.9 99.1L965.0 107.8L956.3 96.6L967.4 88.2ZM954.9 115.9L922.9 141.4L913.4 129.1L945.9 104.4ZM975.1 87.2L948.1 108.0L939.3 96.4L966.9 76.2ZM937.8 116.0L932.1 120.4L923.0 108.3L928.9 104.1ZM958.4 87.4L952.6 91.7L944.3 80.2L950.2 76.0ZM904.4 127.5L898.6 131.8L889.3 119.0L895.2 114.8ZM974.5 52.0L968.5 56.1L961.0 45.0L967.1 41.0ZM974.8 40.5L968.8 44.5L961.6 33.4L967.7 29.5Z" fill="#64c3de"/>
<path d="M1020.7 762.4L1013.1 781.6L987.9 771.4L995.9 752.3ZM1008.4 793.7L1003.3 806.7L977.5 796.2L982.9 783.3ZM1000.4 761.5L997.7 768.2L972.8 757.5L975.7 750.9ZM990.2 786.4L987.4 793.0L961.9 782.2L964.8 775.5ZM988.1 741.7L985.2 748.3L960.8 737.4L963.9 730.8ZM977.4 766.4L969.2 785.3L943.9 774.0L952.6 755.2ZM956.9 764.6L948.3 783.4L923.0 771.6L932.1 753.0ZM1014.3 598.3L1011.2 604.9L990.3 594.6L993.5 588.2ZM1008.5 610.5L1005.4 617.0L984.2 606.6L987.5 600.2ZM999.8 628.7L996.7 635.3L975.1 624.6L978.3 618.2ZM988.3 653.0L985.2 659.6L962.9 648.7L966.2 642.2ZM976.7 677.3L973.6 683.9L950.8 672.7L954.0 666.2ZM933.4 768.5L930.2 775.0L905.2 762.8L908.5 756.3ZM1005.4 579.1L999.2 591.6L978.6 581.0L985.2 568.7ZM981.5 627.3L978.2 633.8L956.6 622.7L960.0 616.3ZM975.5 639.3L963.3 663.9L940.9 652.4L953.7 628.2ZM957.5 675.5L951.3 688.0L928.4 676.3L934.9 663.9ZM894.6 802.1L891.4 808.5L865.5 795.3L868.9 788.9ZM1012.6 529.9L1009.3 536.3L990.1 526.0L993.6 519.7ZM1003.3 547.8L996.9 560.2L977.1 549.6L983.8 537.4ZM990.9 571.7L987.6 578.1L967.4 567.3L970.9 561.0ZM969.2 613.5L965.9 619.9L944.6 608.6L948.1 602.2ZM953.7 643.4L947.3 655.8L925.2 643.9L931.9 631.7ZM885.5 774.8L882.2 781.2L857.0 767.8L860.5 761.4ZM879.3 786.8L872.9 799.1L847.3 785.4L854.0 773.2ZM957.3 599.6L953.9 606.0L933.0 594.3L936.6 588.0ZM938.1 635.1L934.7 641.5L912.9 629.3L916.5 623.1ZM931.7 647.0L928.3 653.3L906.2 641.0L909.8 634.7ZM925.3 658.8L921.9 665.1L899.5 652.7L903.1 646.4ZM912.5 682.5L909.1 688.8L886.1 676.0L889.7 669.8ZM906.1 694.3L899.4 706.6L876.1 693.6L883.0 681.4ZM861.2 777.2L857.8 783.5L832.6 769.5L836.2 763.2ZM851.6 794.9L848.2 801.3L822.5 787.0L826.1 780.7ZM965.7 550.4L962.1 556.7L942.4 545.2L946.1 539.0ZM955.7 568.0L948.9 580.1L928.6 568.3L935.7 556.4ZM942.5 591.4L922.4 627.0L901.0 614.6L922.0 579.5ZM919.4 632.4L912.5 644.6L890.7 631.9L897.8 619.9ZM902.8 661.7L896.0 673.9L873.4 660.8L880.6 648.8ZM883.0 696.9L876.1 709.1L852.7 695.5L859.9 683.5ZM840.0 773.1L833.1 785.3L807.9 770.6L815.0 758.6ZM830.1 790.7L826.5 797.0L801.0 782.2L804.7 776.0ZM823.5 802.4L819.9 808.7L794.1 793.7L797.8 787.5ZM921.0 594.5L913.9 606.6L893.0 593.9L900.4 582.1ZM907.4 617.8L900.3 629.8L878.8 616.8L886.2 605.0ZM893.7 641.0L876.4 670.4L854.0 656.8L872.0 627.8ZM811.9 780.2L801.4 798.1L775.9 782.6L786.8 765.1ZM906.2 585.7L902.5 591.9L881.9 579.0L885.8 572.9ZM888.7 614.4L863.9 655.0L841.8 641.2L867.6 601.2ZM804.5 752.2L800.7 758.4L776.1 743.0L780.0 736.9ZM797.4 763.7L783.1 787.1L757.9 771.2L772.7 748.2ZM870.0 610.7L855.3 633.8L833.7 619.8L849.0 597.0ZM761.7 781.1L754.2 792.9L728.8 776.3L736.6 764.7ZM1036.6 325.7L1032.7 331.8L1018.4 322.1L1022.6 316.2ZM847.5 612.2L843.6 618.2L822.4 603.9L826.5 597.9ZM824.9 613.2L820.8 619.1L799.6 604.2L803.8 598.4ZM1012.7 317.5L1008.5 323.4L994.5 313.2L998.8 307.4ZM1002.8 310.3L998.5 316.1L984.6 305.6L989.1 299.9ZM894.9 456.5L882.6 473.2L864.9 459.8L877.6 443.5ZM779.0 613.5L774.7 619.4L753.5 603.3L757.9 597.6ZM1029.8 254.8L1025.4 260.6L1012.9 250.8L1017.4 245.1ZM862.1 474.0L853.6 485.0L835.7 471.0L844.4 460.1ZM1033.5 232.1L1024.8 243.1L1012.8 233.3L1021.7 222.5ZM1016.5 235.7L1007.6 246.5L995.5 236.3L1004.6 225.7ZM999.4 256.5L994.8 262.1L982.3 251.5L987.0 246.1ZM943.8 324.1L939.2 329.7L925.1 317.7L929.8 312.3ZM819.9 474.8L815.3 480.4L797.5 465.4L802.2 459.9ZM1034.2 197.9L1016.4 218.7L1004.9 208.7L1023.2 188.3ZM1008.0 228.6L981.5 259.7L969.0 248.8L996.3 218.4ZM938.2 310.6L933.5 316.1L919.7 304.0L924.5 298.6ZM1026.3 191.1L1017.1 201.5L1006.1 191.5L1015.6 181.3ZM928.4 302.1L923.6 307.5L910.0 295.2L914.9 289.9ZM1009.5 194.1L1000.1 204.4L989.0 194.0L998.7 183.9ZM918.7 293.4L909.3 303.7L895.8 291.0L905.5 281.0ZM1011.0 177.0L1006.0 182.3L995.5 172.0L1000.6 166.9ZM983.3 206.4L973.7 216.5L962.3 205.5L972.1 195.6ZM890.7 304.1L885.8 309.4L872.1 296.1L877.2 291.0ZM1008.2 165.0L989.1 184.6L978.4 173.9L998.1 154.8ZM965.8 208.3L960.8 213.5L949.5 202.1L954.7 197.0ZM890.5 285.2L885.4 290.3L872.2 277.1L877.4 272.1ZM876.3 280.6L866.4 290.4L853.2 276.7L863.4 267.1ZM867.1 271.0L861.8 276.0L849.0 262.2L854.4 257.3ZM894.4 211.2L888.9 216.0L877.6 202.9L883.1 198.2ZM849.0 251.4L843.6 256.2L831.3 241.9L836.8 237.3ZM951.0 132.6L945.5 137.2L936.0 125.4L941.7 121.0ZM981.2 94.9L975.5 99.4L967.0 88.5L972.8 84.1ZM965.4 107.5L954.5 116.2L945.5 104.7L956.7 96.3ZM918.0 145.3L912.4 149.8L902.6 137.3L908.4 132.9ZM943.1 111.8L937.4 116.3L928.5 104.3L934.3 100.1Z" fill="#60d6c3"/>
<path d="M1031.5 788.1L1024.2 807.5L998.4 797.5L1006.1 778.3ZM1013.3 781.2L1008.2 794.2L982.7 783.8L988.1 770.9ZM997.9 767.7L990.0 786.8L964.6 776.0L973.0 757.1ZM987.6 792.6L982.3 805.5L956.5 794.5L962.1 781.7ZM969.4 784.9L966.5 791.5L941.0 780.1L944.1 773.5ZM961.3 803.4L955.8 816.2L929.7 804.5L935.6 791.9ZM948.5 783.0L937.2 807.9L911.3 795.8L923.3 771.1ZM1017.2 592.3L1014.1 598.8L993.3 588.6L996.6 582.2ZM1002.7 622.6L999.6 629.2L978.1 618.6L981.4 612.2ZM996.9 634.8L990.9 647.4L969.0 636.6L975.3 624.2ZM985.4 659.1L979.4 671.7L956.8 660.7L963.1 648.2ZM930.5 774.6L915.8 805.4L890.0 792.8L905.4 762.3ZM909.6 771.9L903.4 784.4L878.1 771.5L884.6 759.1ZM897.6 796.0L894.4 802.5L868.7 789.3L872.0 782.9ZM959.9 631.4L953.5 643.8L931.7 632.2L938.4 619.9ZM938.2 673.3L934.9 679.7L912.2 667.5L915.7 661.2ZM882.4 780.8L879.1 787.2L853.8 773.7L857.3 767.3ZM873.1 798.7L869.8 805.1L844.0 791.3L847.5 785.0ZM963.8 587.8L957.1 600.0L936.3 588.5L943.3 576.4ZM941.3 629.2L937.9 635.6L916.3 623.5L919.9 617.2ZM858.0 783.1L851.4 795.4L825.9 781.1L832.8 769.0ZM922.7 626.6L919.1 632.9L897.6 620.4L901.3 614.1ZM833.4 784.8L829.8 791.1L804.4 776.4L808.1 770.2ZM826.8 796.6L823.2 802.9L797.5 787.9L801.2 781.7ZM927.8 582.9L920.7 595.0L900.1 582.5L907.5 570.7ZM900.5 629.4L893.5 641.4L871.7 628.3L879.1 616.4ZM818.7 768.6L811.7 780.7L786.5 765.5L793.9 753.6ZM855.6 633.4L851.7 639.5L830.0 625.4L834.0 619.3ZM1034.2 307.9L1022.5 324.9L1008.4 315.0L1020.5 298.3ZM1020.5 306.5L1012.4 317.9L998.5 307.8L1006.9 296.6ZM1016.8 253.2L1008.1 264.2L995.5 253.9L1004.5 243.2ZM1016.7 218.3L1007.7 229.0L996.0 218.7L1005.3 208.3ZM946.9 300.3L937.8 310.9L924.2 299.0L933.5 288.6ZM1030.8 186.0L1026.0 191.4L1015.2 181.7L1020.1 176.4ZM999.6 221.3L990.4 231.8L978.6 221.1L988.1 210.9ZM981.8 241.5L977.0 246.9L964.9 236.0L969.8 230.7ZM955.1 271.8L928.0 302.4L914.6 290.2L942.3 260.3ZM1018.6 184.1L1009.2 194.4L998.3 184.2L1008.0 174.2ZM982.3 223.9L963.8 244.1L951.7 232.8L970.7 213.0ZM932.3 278.5L918.4 293.8L905.1 281.3L919.4 266.4ZM909.6 303.3L904.8 308.7L891.1 295.9L896.1 290.7ZM997.1 191.7L992.2 197.0L981.2 186.4L986.3 181.2ZM974.0 216.1L945.9 245.8L933.8 234.1L962.6 205.1ZM918.5 274.8L895.0 299.6L881.6 286.6L905.7 262.4ZM989.4 184.3L974.9 199.0L964.0 188.0L978.8 173.6ZM961.1 213.1L956.1 218.3L944.6 206.8L949.8 201.7ZM895.2 280.4L890.1 285.5L877.1 272.4L882.2 267.4ZM991.4 167.2L986.2 172.3L975.9 161.6L981.2 156.6ZM948.2 209.7L943.1 214.8L931.7 203.0L937.0 198.1ZM933.9 223.9L928.7 229.0L917.0 216.8L922.3 211.9ZM905.1 252.2L895.1 262.0L882.7 249.1L892.8 239.5ZM881.1 275.9L876.0 280.9L863.0 267.5L868.3 262.5ZM984.1 159.7L969.1 173.9L958.7 162.8L974.1 148.9ZM902.6 220.3L897.2 225.2L885.7 212.3L891.1 207.5ZM1035.3 86.2L1019.9 99.9L1011.3 90.0L1027.1 76.7ZM964.8 148.7L959.4 153.5L949.6 142.1L955.1 137.4ZM909.5 197.8L904.1 202.6L893.0 189.9L898.5 185.2ZM1024.3 83.8L1013.7 92.9L1005.3 82.8L1016.2 74.0ZM957.9 140.7L952.4 145.4L942.7 133.8L948.3 129.3ZM896.5 193.2L891.0 197.9L880.1 184.8L885.7 180.3ZM1013.3 81.1L1002.5 90.0L994.2 79.7L1005.2 71.1ZM945.8 136.8L940.3 141.4L930.7 129.6L936.4 125.1ZM904.3 171.1L898.8 175.7L888.4 162.9L894.1 158.4ZM878.4 192.6L872.8 197.2L861.9 183.7L867.6 179.2ZM923.3 141.1L917.6 145.6L908.0 133.2L913.8 128.8ZM886.5 170.5L865.0 187.6L854.4 173.9L876.2 157.3ZM985.8 79.0L980.1 83.4L971.9 72.6L977.8 68.3ZM963.8 83.4L958.0 87.7L949.8 76.3L955.7 72.2ZM968.9 67.6L963.1 71.8L955.2 60.5L961.2 56.5Z" fill="#3dd670"/>
<path d="M964.0 797.2L961.1 803.9L935.4 792.3L938.4 785.8ZM903.6 784.0L897.4 796.5L871.8 783.4L878.3 771.0ZM947.5 655.3L938.0 673.7L915.4 661.6L925.4 643.5ZM970.2 575.9L963.5 588.2L943.0 576.8L950.0 564.7ZM928.5 652.9L925.1 659.2L902.9 646.9L906.5 640.6ZM968.7 274.7L955.3 290.4L942.1 278.9L955.9 263.5ZM1008.5 211.2L999.3 221.7L987.8 211.3L997.3 201.0ZM936.9 273.5L932.0 278.9L919.1 266.8L924.1 261.6ZM1006.4 181.9L1001.4 187.2L990.7 176.8L995.8 171.7ZM956.4 217.9L923.1 251.9L910.9 239.6L945.0 206.4ZM904.6 270.8L894.8 280.7L881.9 267.7L891.9 258.0ZM986.6 172.0L957.5 200.6L946.5 189.2L976.3 161.2ZM885.9 271.1L880.8 276.2L867.9 262.9L873.2 257.9ZM969.5 173.6L964.2 178.6L953.8 167.3L959.1 162.5ZM920.7 220.0L910.6 229.6L898.9 217.0L909.2 207.6ZM871.9 266.4L866.7 271.4L854.0 257.7L859.4 252.8ZM972.0 156.6L961.7 166.0L951.5 154.7L962.0 145.5ZM912.5 211.2L902.2 220.6L890.7 207.8L901.2 198.7ZM867.9 252.2L842.7 275.3L829.9 261.0L855.6 238.5ZM959.8 153.2L949.4 162.4L939.3 150.8L950.0 141.8ZM919.5 188.9L909.1 198.1L898.2 185.5L908.8 176.5ZM1034.6 75.0L1023.9 84.1L1015.8 74.3L1026.6 65.5ZM952.8 145.1L942.2 154.1L932.3 142.3L943.1 133.5ZM922.1 171.3L896.1 193.5L885.3 180.6L911.8 159.0ZM1023.7 72.5L1012.9 81.4L1004.8 71.4L1015.8 62.7ZM1002.9 89.7L997.3 94.3L988.9 83.8L994.6 79.4ZM940.7 141.1L904.0 171.5L893.7 158.7L931.1 129.3ZM899.2 175.4L878.0 192.9L867.2 179.5L888.8 162.6ZM997.0 82.4L986.0 91.1L977.7 80.3L988.8 71.9ZM980.5 83.1L974.7 87.5L966.5 76.5L972.3 72.3ZM990.9 63.4L963.4 83.7L955.3 72.5L983.2 52.8ZM1001.8 44.1L968.5 67.9L960.8 56.7L994.6 33.8ZM985.5 44.4L974.0 52.3L966.7 41.3L978.4 33.7ZM980.4 36.8L974.4 40.8L967.3 29.8L973.4 25.9Z" fill="#14c81e"/>
<path d="M966.7 791.1L963.8 797.7L938.2 786.2L941.3 779.7ZM1000.0 274.3L987.2 290.5L974.0 279.8L987.2 263.9ZM948.1 318.9L943.5 324.5L929.5 312.6L934.2 307.2ZM981.8 259.3L977.1 264.8L964.5 253.9L969.4 248.5ZM977.4 246.6L972.6 252.0L960.3 240.9L965.2 235.6ZM1001.8 186.8L996.8 192.1L986.0 181.6L991.1 176.5ZM946.2 245.5L936.6 255.6L924.3 243.6L934.1 233.7ZM923.4 251.5L918.4 256.7L906.0 244.3L911.2 239.2ZM957.8 200.3L947.9 210.1L936.7 198.4L946.8 188.9ZM943.4 214.5L933.5 224.3L921.9 212.2L932.1 202.7ZM929.1 228.6L919.1 238.4L907.2 226.0L917.4 216.5ZM942.2 183.9L927.0 197.9L916.1 185.7L931.6 172.1ZM934.6 175.5L924.2 184.7L913.6 172.5L924.3 163.5ZM1018.0 65.6L1007.1 74.3L999.2 64.1L1010.3 55.6ZM986.4 90.7L980.8 95.3L972.4 84.4L978.1 80.0ZM1023.1 50.3L1012.1 58.8L1004.5 48.7L1015.8 40.5ZM996.6 36.7L985.1 44.7L977.9 33.9L989.6 26.3Z" fill="#12b41a"/>
<path d="M1034.7 267.0L1026.5 278.2L1013.5 268.4L1022.1 257.4ZM1025.7 260.2L1009.0 282.0L996.0 271.7L1013.2 250.4ZM1008.4 263.8L999.7 274.7L986.9 264.3L995.8 253.5ZM995.1 261.7L986.3 272.5L973.5 261.7L982.6 251.2ZM977.4 264.5L968.4 275.1L955.6 263.9L964.9 253.5ZM972.9 251.6L954.8 272.2L942.0 260.6L960.7 240.5ZM964.1 243.7L959.3 249.1L947.1 237.6L952.1 232.4ZM955.0 253.7L936.5 273.9L923.8 261.9L942.8 242.1ZM937.0 255.2L918.1 275.2L905.3 262.7L924.7 243.3ZM918.7 256.3L913.7 261.5L901.2 249.0L906.4 243.9ZM909.3 266.0L904.3 271.1L891.5 258.4L896.7 253.3ZM895.5 261.7L885.6 271.5L872.8 258.3L883.0 248.7ZM964.6 178.2L925.2 215.7L913.9 203.5L954.1 167.0ZM876.8 261.7L871.6 266.7L859.0 253.2L864.3 248.3ZM962.0 165.7L941.9 184.2L931.3 172.4L951.9 154.4ZM927.4 197.5L912.1 211.5L900.9 199.0L916.4 185.4ZM949.7 162.1L944.3 166.9L934.2 155.1L939.7 150.5ZM924.6 184.4L919.2 189.2L908.4 176.8L914.0 172.2ZM942.5 153.8L921.7 171.6L911.4 159.3L932.7 142.0ZM1034.0 64.0L1023.3 72.9L1015.4 63.1L1026.4 54.4ZM1033.8 53.0L1017.6 65.9L1009.9 55.9L1026.4 43.4ZM1007.5 74.0L996.6 82.7L988.4 72.2L999.6 63.8ZM1033.8 42.1L1022.7 50.6L1015.4 40.8L1026.7 32.6ZM1007.1 62.6L996.1 71.1L988.2 60.7L999.5 52.4ZM991.1 74.9L985.4 79.3L977.4 68.6L983.2 64.3ZM1017.9 43.3L1012.1 47.6L1004.8 37.6L1010.7 33.4ZM1001.7 55.4L990.4 63.7L982.8 53.1L994.2 45.0Z" fill="#10a216"/>
<path d="M986.6 272.1L977.7 282.9L964.7 271.9L973.8 261.3ZM959.6 248.7L954.7 254.0L942.4 242.5L947.4 237.3ZM914.0 261.2L909.0 266.3L896.4 253.7L901.6 248.6ZM925.6 215.3L920.3 220.3L908.9 208.0L914.2 203.1ZM944.7 166.5L934.3 175.8L923.9 163.8L934.5 154.8ZM1012.5 58.5L1006.7 62.9L999.1 52.7L1004.9 48.4ZM996.5 70.8L990.7 75.2L982.8 64.6L988.6 60.4ZM1028.7 35.3L1017.5 43.6L1010.3 33.7L1021.7 25.6ZM1012.5 47.3L1001.3 55.7L993.8 45.3L1005.2 37.3ZM1012.7 36.3L1001.4 44.4L994.2 34.1L1005.7 26.2Z" fill="#0e8e14"/>
<path d="M97.5 205.3L104.9 203.7L112.5 226.6L105.1 228.8Z" fill="#6478ac"/>
<path d="M577.4 909.1L596.3 923.3L589.3 934.7L569.9 919.3Z" fill="#6478ac"/>
<path d="M602.2 918.3L621.6 932.7L614.7 943.7L594.8 929.8Z" fill="#6478ac"/>
<path d="M630.6 921.3L650.0 935.7L643.0 945.7L622.6 931.7Z" fill="#6478ac"/>
<path d="M558.1 937.0L578.5 951.4L570.6 962.3L550.7 947.4Z" fill="#6478ac"/>
<path d="M565.4 1016.1L563.2 1021.3L585.5 1035.0L588.5 1029.5Z" fill="#6478ac"/>
<path d="M728.3 995.2L732.3 990.6L753.2 1002.2L750.2 1007.5Z" fill="#6478ac"/>
<path d="M751.2 906.7L755.2 902.7L774.1 914.7L771.1 919.6Z" fill="#6478ac"/>
<path d="M518.1 947.5L585.5 991.0L579.6 999.1L512.2 954.0Z" fill="#5368a5"/>
<path d="M568.2 967.1L596.9 984.4L593.0 990.1L564.1 972.5Z" fill="#5368a5"/>
<path d="M531.1 965.4L579.6 997.9L571.4 1009.8L529.6 977.6Z" fill="#5368a5"/>
<path d="M594.5 977.0L586.3 988.0L582.5 991.4L578.1 997.0L569.1 1008.9L606.4 1035.0L649.6 1035.0L654.1 1023.5L658.6 1017.5L665.3 1007.8L642.9 992.9L636.2 1002.6Z" fill="#5368a5"/>
<path d="M624.3 1020.5L631.8 1017.5L648.2 1026.5L645.2 1035.0L624.3 1035.0Z" fill="#4560a6"/>
<path d="M1004.9 768.0L1016.2 759.8L1016.2 788.6L1007.8 786.6Z" fill="#ffffff"/></g>
<path d="M85.6 97.3C86.6 96.5 89.7 94.8 91.9 92.7C94.1 90.6 96.9 86.4 98.9 84.7C100.9 83.0 102.1 82.5 103.9 82.8C105.7 83.1 107.5 85.0 109.8 86.7C112.1 88.4 115.3 91.4 117.8 92.7C120.3 94.0 122.1 94.9 124.7 94.7C127.3 94.5 130.5 93.0 133.7 91.7C136.8 90.4 140.3 88.2 143.6 86.7C146.9 85.2 150.3 83.3 153.6 82.4C156.9 81.5 160.3 81.4 163.5 81.2C166.7 81.0 169.5 82.1 172.5 81.2C175.5 80.3 178.8 78.2 181.4 75.8C184.1 73.4 186.7 69.8 188.4 66.8C190.1 63.8 191.1 61.5 191.8 57.9C192.6 54.3 192.7 47.1 192.9 45.0M357.0 45.0C359.5 45.4 368.2 46.8 372.0 47.5C375.8 48.2 377.3 47.6 380.0 49.0C382.7 50.4 384.7 52.8 388.0 55.9C391.3 59.0 396.3 64.9 399.9 67.8C403.5 70.7 406.5 73.0 409.8 73.2C413.1 73.4 415.8 70.8 419.8 68.8C423.8 66.8 429.1 63.1 433.7 61.5C438.3 59.9 443.3 59.4 447.6 59.3C451.9 59.2 456.2 59.8 459.5 60.9C462.8 62.0 465.8 63.3 467.5 65.8C469.2 68.3 469.6 72.1 469.9 75.8C470.2 79.5 470.0 83.9 469.1 87.7C468.2 91.5 466.8 95.7 464.5 98.7C462.2 101.7 458.4 103.9 455.6 105.6C452.8 107.2 450.6 107.8 447.6 108.6C444.6 109.4 440.9 109.4 437.7 110.6C434.5 111.8 431.7 113.3 428.7 115.6C425.7 117.9 422.3 121.2 419.8 124.5C417.3 127.8 415.1 131.2 413.8 135.4C412.5 139.6 412.2 143.1 411.8 149.4C411.4 155.7 410.9 167.7 411.2 173.2C411.5 178.7 412.4 179.7 413.8 182.2C415.2 184.7 417.5 186.3 419.8 188.1C422.1 189.9 425.4 190.9 427.7 193.1C429.9 195.3 432.0 197.4 433.3 201.1C434.6 204.8 434.6 210.4 435.3 215.0C436.0 219.6 437.0 225.2 437.7 228.9C438.4 232.6 439.6 234.2 439.3 236.9C439.0 239.6 436.5 242.6 435.7 244.8C434.9 247.0 434.4 247.4 434.7 249.9C435.0 252.4 436.7 256.6 437.7 259.9C438.7 263.2 440.4 265.8 440.6 269.8C440.8 273.8 440.0 279.4 438.7 283.7C437.4 288.0 434.7 291.4 432.7 295.7C430.7 300.0 428.3 305.0 426.7 309.6C425.1 314.2 424.4 320.4 422.8 323.5C421.2 326.6 419.6 326.7 416.8 328.5C414.0 330.3 409.1 332.2 405.8 334.5C402.5 336.8 399.2 339.6 396.9 342.4C394.6 345.2 393.2 347.2 391.9 351.4C390.6 355.5 390.0 362.7 388.9 367.3C387.8 371.9 386.0 375.2 385.0 379.2C384.0 383.2 383.0 387.6 383.0 391.1C383.0 394.6 384.6 397.3 385.0 400.0C385.4 402.7 385.9 404.1 385.4 407.3C384.9 410.6 383.8 415.4 381.8 419.5C379.8 423.6 376.4 428.3 373.3 431.6C370.2 434.9 366.4 437.6 363.5 439.5C360.6 441.4 359.0 442.2 356.2 443.2C353.4 444.2 349.1 445.0 346.5 445.6C343.9 446.2 342.0 445.9 340.4 446.8C338.8 447.7 337.3 449.6 336.8 451.1C336.3 452.6 336.8 454.0 337.4 456.0C338.0 458.0 340.0 460.9 340.4 463.3C340.8 465.7 340.3 468.2 339.8 470.6C339.3 473.0 338.2 475.5 337.4 477.9C336.6 480.3 335.3 482.8 334.9 485.2C334.5 487.6 334.0 489.8 334.9 492.5C335.8 495.2 340.5 499.0 340.4 501.6C340.3 504.2 337.3 505.6 334.3 508.3C331.3 511.0 324.6 516.2 322.6 517.8M439.3 236.9C440.7 236.2 445.2 234.6 447.6 232.9C450.1 231.2 453.0 229.6 454.0 226.9C455.0 224.2 453.2 219.5 453.6 217.0C454.0 214.5 455.3 213.3 456.6 212.0C457.9 210.7 457.9 210.1 461.5 209.4C465.1 208.7 475.6 208.2 478.4 208.0M478.4 208.0C479.2 206.2 479.9 204.2 483.4 197.1C486.9 190.0 494.8 174.2 499.3 165.3C503.8 156.4 507.2 148.1 510.2 143.4C513.2 138.8 514.4 139.2 517.2 137.4C520.0 135.6 524.3 135.2 527.1 132.5C529.9 129.8 531.9 124.7 534.1 121.5C536.3 118.3 539.1 114.9 540.1 113.6M540.1 113.6C541.1 114.6 543.6 117.2 546.0 119.5C548.4 121.8 553.2 126.2 554.6 127.5M554.6 127.5C556.0 126.8 560.2 124.4 562.9 123.5C565.6 122.6 568.2 121.9 570.9 122.1C573.5 122.3 576.1 122.9 578.8 124.5C581.4 126.1 584.5 128.7 586.8 131.5C589.1 134.3 591.0 138.1 592.8 141.4C594.6 144.7 595.4 148.8 597.7 151.4C600.0 154.1 603.0 156.1 606.7 157.3C610.4 158.5 616.8 158.5 620.0 158.7C623.2 158.9 623.2 158.9 625.8 158.3C628.4 157.7 632.5 157.1 635.8 155.3C639.1 153.5 642.7 149.4 645.7 147.4C648.7 145.4 651.8 144.1 653.7 143.4C655.6 142.7 656.7 143.4 657.3 143.4M554.6 127.5C554.8 130.2 555.5 134.8 555.6 143.4C555.7 152.0 555.6 170.6 555.0 179.2C554.4 187.8 553.3 189.8 552.0 195.1C550.7 200.4 548.2 205.0 547.0 211.0C545.8 217.0 546.0 225.6 545.0 230.9C544.0 236.2 542.2 239.6 541.1 242.8C540.0 246.0 538.8 247.1 538.1 249.9C537.4 252.8 536.0 256.6 536.7 259.9C537.4 263.2 540.6 265.8 542.1 269.8C543.6 273.8 544.5 279.1 546.0 283.7C547.5 288.3 549.2 293.7 551.0 297.7C552.8 301.7 554.5 305.1 557.0 307.6C559.5 310.1 563.8 310.8 565.9 312.6C568.0 314.4 569.2 315.7 569.9 318.5C570.6 321.3 568.9 326.2 569.9 329.5C570.9 332.8 573.1 335.8 575.9 338.4C578.7 341.0 583.3 343.7 586.8 345.4C590.3 347.1 593.7 346.8 596.7 348.4C599.7 350.0 602.2 352.5 604.7 355.3C607.2 358.1 609.7 361.8 611.7 365.3C613.7 368.8 613.9 373.7 616.6 376.2C619.3 378.7 623.6 379.3 627.8 380.5C632.0 381.7 638.1 381.7 641.8 383.5C645.4 385.3 647.4 388.5 649.7 391.5C652.0 394.5 653.1 398.8 655.7 401.4C658.4 404.0 662.3 405.7 665.6 407.4C668.9 409.1 672.3 409.1 675.6 411.4C678.9 413.7 682.2 417.7 685.5 421.3C688.8 424.9 692.4 428.9 695.4 433.2C698.4 437.5 699.9 442.1 703.4 447.1C706.9 452.2 714.1 460.8 716.3 463.5M716.3 463.5C717.8 462.4 722.1 459.8 725.3 457.1C728.4 454.4 732.9 451.1 735.2 447.1C737.5 443.1 737.7 437.2 739.2 433.2C740.7 429.2 740.9 426.3 744.2 423.3C747.5 420.3 753.0 418.1 759.1 415.3C765.2 412.5 774.4 408.2 781.0 406.4C787.6 404.6 792.3 404.2 798.8 404.4C805.2 404.6 816.2 406.9 819.7 407.4M85.6 398.8C87.0 400.1 91.4 404.1 93.9 406.7C96.5 409.3 98.8 411.4 100.9 414.7C103.1 418.0 104.2 422.3 106.8 426.6C109.4 430.9 114.1 436.0 116.8 440.5C119.5 445.0 121.2 449.9 122.8 453.5C124.3 457.1 125.4 459.8 126.1 462.4C126.8 465.0 125.5 467.9 127.1 469.0C128.7 470.1 132.9 469.4 135.7 469.0C138.4 468.6 140.9 467.8 143.6 466.4C146.2 465.0 149.3 462.9 151.6 460.4C153.9 457.9 156.2 455.0 157.5 451.5C158.8 448.0 159.0 444.1 159.5 439.5C160.0 434.9 159.8 427.4 160.5 423.6C161.2 419.8 162.3 418.5 163.5 416.7C164.7 414.9 166.1 412.4 167.5 412.7C168.9 413.0 170.7 416.2 171.9 418.7C173.2 421.2 174.2 423.5 175.0 427.6C175.8 431.7 175.8 439.2 177.0 443.5C178.2 447.8 180.5 450.2 182.4 453.5C184.3 456.8 187.1 459.8 188.4 463.4C189.7 467.0 189.9 471.0 190.4 475.3C190.9 479.6 190.6 485.2 191.4 489.3C192.2 493.4 193.3 498.6 195.3 500.2C197.3 501.8 200.0 500.0 203.3 499.2C206.6 498.4 212.2 496.8 215.2 495.2C218.2 493.6 219.2 492.6 221.2 489.3C223.2 486.0 225.1 479.8 227.1 475.3C229.1 470.8 231.1 465.3 233.1 462.4C235.1 459.5 236.8 458.5 239.1 457.8C241.4 457.1 244.3 457.1 247.0 458.4C249.7 459.7 252.0 462.4 255.0 465.4C258.0 468.4 261.6 473.6 264.9 476.3C268.2 479.0 270.6 480.4 274.9 481.7C279.2 483.0 286.5 482.7 290.8 484.3C295.1 485.9 297.4 488.2 300.7 491.2C304.0 494.2 307.1 497.8 310.7 502.2C314.3 506.6 320.3 515.2 322.2 517.8M322.8 521.8C320.6 522.6 313.1 525.1 309.8 526.7C306.5 528.4 304.5 529.2 302.9 531.7C301.2 534.2 299.7 537.6 299.9 541.6C300.1 545.6 302.8 551.3 303.9 555.6C305.0 559.9 306.3 562.5 306.8 567.5C307.3 572.5 307.3 580.1 306.8 585.4C306.3 590.7 306.1 594.2 303.9 599.3C301.7 604.4 293.8 612.4 293.5 616.2C293.2 620.0 298.8 620.8 301.9 622.2C304.9 623.6 308.6 624.4 311.8 624.6C315.0 624.8 316.8 625.0 320.8 623.6C324.8 622.2 329.6 619.1 335.7 616.2C341.8 613.3 350.6 609.6 357.5 606.3C364.4 603.0 372.4 598.3 377.4 596.3C382.4 594.3 383.8 594.5 387.4 594.5C391.0 594.5 395.5 595.3 399.3 596.3C403.1 597.3 406.9 600.9 410.2 600.7C413.5 600.5 416.0 596.0 419.2 595.3C422.4 594.6 425.5 596.0 429.1 596.3C432.8 596.6 437.8 597.5 441.1 597.3C444.4 597.1 446.0 596.5 449.0 594.9C452.0 593.2 456.0 589.4 459.0 587.4C462.0 585.4 463.9 583.6 466.9 582.8C469.9 582.0 473.6 581.3 476.9 582.4C480.2 583.5 483.5 586.4 486.8 589.4C490.1 592.4 493.7 597.8 496.7 600.3C499.7 602.8 502.0 604.7 504.7 604.7C507.4 604.7 510.5 602.8 512.7 600.3C514.9 597.8 515.7 590.5 517.9 590.0C520.1 589.5 523.3 594.6 525.8 597.5C528.3 600.4 531.0 603.2 532.8 607.5C534.6 611.8 535.1 619.4 536.8 623.4C538.5 627.4 540.0 628.9 542.8 631.4C545.6 633.9 549.9 636.3 553.7 638.3C557.5 640.3 562.0 643.5 565.6 643.3C569.2 643.1 572.0 638.7 575.6 637.3C579.2 635.9 583.9 636.2 587.5 634.9C591.1 633.6 594.4 632.0 597.4 629.4C600.4 626.8 603.1 622.7 605.4 619.4C607.7 616.1 609.1 611.8 611.4 609.5C613.7 607.2 615.3 606.5 619.3 605.5C623.3 604.5 630.6 604.9 635.2 603.5C639.8 602.1 643.1 597.8 647.1 597.0C651.1 596.2 654.8 597.5 659.1 598.9C663.4 600.3 668.7 603.7 673.0 605.5C677.3 607.3 681.4 608.3 684.9 609.5C688.4 610.7 691.2 612.7 693.9 612.5C696.5 612.3 698.3 610.2 700.8 608.5C703.3 606.8 706.3 603.7 708.8 602.5C711.3 601.3 713.1 600.3 715.7 601.1C718.4 601.9 723.0 603.8 724.7 607.5C726.4 611.2 725.4 618.1 725.7 623.4C726.0 628.7 725.7 634.0 726.7 639.3C727.7 644.6 729.5 650.6 731.7 655.2C733.9 659.8 736.6 662.1 740.0 667.1C743.4 672.1 747.0 680.9 752.0 685.0C757.0 689.1 763.7 690.5 770.0 692.0C776.3 693.5 786.7 693.7 790.0 694.0M410.2 600.7C409.2 602.1 405.7 606.2 404.3 609.3C402.9 612.4 401.7 615.9 401.7 619.2C401.7 622.5 402.9 626.1 404.3 629.1C405.7 632.1 408.8 634.5 410.2 637.1C411.6 639.8 413.3 642.4 412.8 645.0C412.3 647.6 410.2 650.5 407.3 653.0C404.4 655.5 399.0 657.4 395.3 660.0C391.6 662.6 388.2 665.8 385.4 668.9C382.6 672.0 380.0 675.3 378.4 678.8C376.8 682.3 376.3 685.5 376.0 690.0C375.7 694.5 376.5 703.2 376.6 705.8M376.6 705.8C373.7 706.7 364.5 709.6 359.1 711.4C353.7 713.2 347.9 714.4 344.2 716.8C340.5 719.2 338.7 721.9 337.2 725.7C335.7 729.5 334.9 735.1 335.2 739.7C335.5 744.4 337.4 749.6 339.2 753.6C341.0 757.6 345.2 760.5 346.2 763.5C347.2 766.5 346.7 768.9 345.2 771.5C343.7 774.1 340.5 777.2 337.2 779.4C333.9 781.5 328.3 782.4 325.3 784.4C322.3 786.4 320.6 788.2 319.3 791.4C318.0 794.5 317.1 799.3 317.3 803.3C317.5 807.3 318.6 811.2 320.3 815.2C322.0 819.2 324.8 822.8 327.3 827.1C329.8 831.4 332.5 837.0 335.2 841.1C337.9 845.2 341.0 847.8 343.6 851.9C346.2 856.0 348.6 860.9 350.6 865.9C352.6 870.9 354.8 879.1 355.6 881.8M355.6 881.8C354.4 883.4 350.4 887.4 348.6 891.7C346.8 896.0 345.7 903.6 344.6 907.6C343.5 911.6 342.6 914.3 342.2 915.6M342.2 915.6C340.8 915.4 337.1 914.8 333.7 914.6C330.3 914.4 325.1 914.3 321.8 914.6C318.5 914.9 316.8 915.6 313.8 916.6C310.8 917.6 307.7 919.5 303.9 920.5C300.1 921.5 295.0 920.8 290.8 922.5C286.6 924.2 283.5 926.5 278.8 930.5C274.1 934.5 267.9 942.4 262.9 946.4C257.9 950.4 253.0 951.6 249.0 954.3C245.0 956.9 242.8 958.6 239.1 962.3C235.4 965.9 228.8 973.9 226.7 976.2M226.7 976.2C225.3 974.7 221.4 969.4 218.2 967.3C215.0 965.1 211.5 965.6 207.3 963.3C203.2 961.0 198.0 957.4 193.3 953.3C188.7 949.1 183.4 941.4 179.4 938.4C175.4 935.4 172.8 935.2 169.5 935.0C166.2 934.8 164.0 935.7 159.5 937.4C155.0 939.1 145.4 944.1 142.6 945.4M342.2 915.6C342.6 916.6 343.2 918.5 344.6 921.5C346.0 924.5 349.1 929.2 350.6 933.5C352.1 937.8 353.1 942.1 353.6 947.4C354.1 952.7 353.4 960.0 353.6 965.3C353.8 970.6 353.8 975.6 354.6 979.2C355.4 982.8 356.4 985.3 358.5 987.1C360.6 988.9 364.0 989.7 367.5 990.1C371.0 990.5 375.8 990.1 379.4 989.5C383.0 988.9 386.4 987.1 389.4 986.2C392.4 985.3 394.6 984.2 397.3 984.2C400.0 984.2 403.0 985.6 405.3 986.2C407.6 986.9 409.4 988.0 411.2 988.1C413.0 988.2 414.2 986.4 416.2 987.1C418.2 987.8 420.4 990.1 423.2 992.1C426.0 994.1 429.8 997.5 433.1 999.1C436.4 1000.7 439.7 1001.4 443.0 1001.7C446.3 1002.0 449.7 1002.0 453.0 1000.7C456.3 999.4 459.9 996.7 462.9 994.1C465.9 991.5 468.9 987.7 470.9 985.2C472.9 982.7 474.2 980.2 474.9 979.2M474.9 979.2C475.5 979.6 476.5 980.5 478.8 981.6C481.1 982.7 485.5 984.6 488.8 985.6C492.1 986.6 495.2 987.4 498.7 987.5C502.2 987.6 506.0 987.2 509.9 986.2C513.8 985.2 519.9 982.0 521.9 981.2M521.9 981.2C522.4 981.5 523.6 981.6 524.9 983.2C526.2 984.9 527.6 988.3 529.8 991.1C531.9 993.9 535.5 997.8 537.8 1000.1C540.1 1002.4 542.7 1004.2 543.7 1005.0M543.7 1005.0C542.1 1006.0 536.8 1008.7 533.8 1011.0C530.8 1013.3 527.4 1016.4 525.8 1019.0C524.1 1021.6 524.0 1024.2 523.9 1026.9C523.8 1029.6 524.7 1033.7 524.9 1035.0M543.7 1005.0C545.4 1004.2 550.7 1001.2 553.7 1000.1C556.7 999.0 557.3 998.3 561.6 998.1C565.9 997.9 573.9 998.0 579.5 999.1C585.1 1000.2 590.1 1002.7 595.4 1005.0C600.7 1007.3 606.1 1011.0 611.4 1013.0C616.7 1015.0 621.3 1016.0 627.3 1017.0C633.2 1018.0 641.8 1018.7 647.1 1019.0C652.4 1019.3 654.8 1019.3 659.1 1019.0C663.4 1018.7 669.4 1017.8 673.0 1017.0C676.6 1016.2 678.9 1015.3 680.9 1014.0C682.9 1012.7 683.6 1011.1 684.9 1009.0C686.2 1006.9 686.6 1004.1 688.9 1001.1C691.2 998.1 696.0 994.1 698.8 991.1C701.6 988.1 704.1 985.9 705.8 983.2C707.5 980.6 708.2 979.2 708.8 975.2C709.4 971.2 709.0 964.6 709.2 959.3C709.4 954.0 709.5 948.1 709.8 943.4C710.1 938.7 709.0 934.9 711.0 931.0C713.0 927.1 717.5 923.3 722.0 920.0C726.5 916.7 733.8 913.3 738.0 911.0C742.2 908.7 745.0 908.3 747.0 906.0C749.0 903.7 749.0 899.8 750.0 897.0C751.0 894.2 751.5 891.3 753.0 889.0C754.5 886.7 758.0 884.0 759.0 883.0M684.9 1011.0C685.9 1011.8 687.9 1014.5 690.9 1016.0C693.9 1017.5 698.8 1019.3 702.8 1020.0C706.8 1020.7 710.5 1020.7 714.8 1020.0C719.1 1019.3 724.5 1017.0 728.7 1016.0C732.9 1015.0 736.8 1014.0 740.0 1014.0C743.2 1014.0 745.3 1014.7 748.0 1016.0C750.7 1017.3 752.5 1020.0 756.0 1022.0C759.5 1024.0 766.8 1027.0 769.0 1028.0M769.0 1028.0C770.2 1027.7 772.5 1026.3 776.0 1026.0C779.5 1025.7 783.4 1026.0 790.0 1026.0C796.6 1026.0 805.9 1025.9 815.8 1026.0C825.7 1026.1 838.9 1026.2 849.6 1026.4C860.3 1026.6 871.6 1026.1 880.0 1027.0C888.4 1027.9 896.7 1031.2 900.0 1032.0M921.2 861.0C923.5 862.0 929.4 864.6 935.0 866.9C940.6 869.2 949.7 871.9 955.0 874.9C960.3 877.9 962.6 879.8 966.9 884.8C971.2 889.8 978.5 901.4 980.8 904.7M980.8 904.7C982.5 903.4 986.8 899.8 990.8 896.8C994.8 893.8 1000.5 888.8 1004.7 886.8C1008.9 884.8 1014.1 885.1 1016.0 884.8M865.6 590.8C866.1 589.1 866.6 584.1 868.6 580.8C870.6 577.5 875.7 574.5 877.5 570.9C879.3 567.3 878.2 563.3 879.5 559.0C880.8 554.7 883.5 548.6 885.5 545.0C887.5 541.4 890.5 538.4 891.5 537.1M891.5 537.1C893.8 537.4 900.8 538.0 905.4 539.1C910.0 540.2 913.7 543.0 919.3 544.0C924.9 545.0 933.6 545.0 939.2 545.0C944.8 545.0 949.5 545.0 953.1 544.0C956.8 543.0 959.1 541.2 961.1 539.1C963.1 537.0 964.0 533.8 965.0 531.1C966.0 528.5 966.7 524.5 967.0 523.2M960.7 549.0C960.8 550.7 960.7 556.0 961.1 559.0C961.5 562.0 960.1 565.4 963.1 566.9C966.1 568.4 976.4 567.7 979.0 567.9M865.6 590.8C866.7 594.0 868.9 603.8 872.0 610.0C875.1 616.2 882.0 621.3 884.0 628.0C886.0 634.7 886.0 644.0 884.0 650.0C882.0 656.0 876.3 658.3 872.0 664.0C867.7 669.7 862.5 678.0 858.0 684.0C853.5 690.0 849.3 695.3 845.0 700.0C840.7 704.7 834.2 710.0 832.0 712.0M816.0 716.0C816.3 720.0 816.3 735.7 818.0 740.0C819.7 744.3 824.3 738.7 826.0 742.0C827.7 745.3 827.7 757.0 828.0 760.0M657.3 143.4L657.7 159.3L659.0 191.1L671.6 191.5L672.6 213.0L697.4 213.0M819.7 407.4L819.7 398.4L815.7 397.4L814.7 387.5L811.8 387.1L814.7 383.9" fill="none" stroke="#6b5f6b" stroke-width="0.7" stroke-opacity="0.16"/>
<path d="M647.1 44.0C647.0 45.6 647.4 50.9 646.7 53.9C646.0 56.9 643.9 58.9 642.8 61.9C641.6 64.9 640.8 68.6 639.8 71.8C638.8 75.0 638.1 79.6 636.8 80.8C635.5 82.0 633.6 79.7 631.8 78.8C630.0 77.9 627.2 75.4 625.8 75.4C624.4 75.4 623.3 77.1 623.5 78.8C623.7 80.5 625.4 83.7 626.8 85.7C628.2 87.7 629.5 89.9 631.8 90.7C634.1 91.5 638.1 90.2 640.8 90.7C643.4 91.2 645.9 91.9 647.7 93.7C649.5 95.5 650.4 99.1 651.7 101.6C653.0 104.1 653.7 106.5 655.7 108.6C657.7 110.7 661.0 113.1 663.6 114.0C666.2 114.9 669.0 113.6 671.6 114.0C674.2 114.4 676.5 115.7 679.5 116.6C682.5 117.5 687.7 118.5 689.5 119.5C691.3 120.5 691.3 122.0 690.5 122.5C689.7 123.0 685.8 121.3 684.5 122.5C683.2 123.7 683.3 126.3 682.5 129.5C681.7 132.7 680.5 137.4 679.5 141.4C678.5 145.4 676.9 149.7 676.2 153.3C675.6 157.0 675.1 160.6 675.6 163.3C676.1 166.0 678.2 166.7 679.5 169.3C680.8 172.0 682.0 176.2 683.5 179.2C685.0 182.2 686.5 185.5 688.5 187.2C690.5 188.8 693.8 187.4 695.4 189.1C697.0 190.8 697.7 194.1 698.4 197.1C699.1 200.1 698.7 204.0 699.4 207.0C700.1 210.0 701.1 213.3 702.4 215.0C703.7 216.7 705.4 217.3 707.4 217.0C709.4 216.7 712.1 214.7 714.3 213.0C716.4 211.3 719.3 208.4 720.3 207.0C721.3 205.6 721.1 205.4 720.3 204.6C719.5 203.8 716.8 204.0 715.3 202.1C713.8 200.2 712.4 196.2 711.4 193.1C710.4 189.9 708.9 186.3 709.0 183.2C709.1 180.0 710.6 176.5 712.3 174.2C714.0 171.9 717.0 170.1 719.3 169.3C721.6 168.5 724.5 168.3 726.3 169.3C728.1 170.3 729.4 172.2 730.2 175.2C731.0 178.2 731.0 183.2 731.2 187.2C731.4 191.2 730.7 195.5 731.2 199.1C731.7 202.7 733.0 205.7 734.2 209.0C735.4 212.3 737.2 215.5 738.2 219.0C739.2 222.5 739.4 229.1 740.2 229.9C741.0 230.7 741.8 226.6 742.9 223.9C744.0 221.2 745.0 216.3 746.8 213.9C748.6 211.5 751.6 209.8 753.8 209.5C756.0 209.2 758.3 210.3 759.8 211.9C761.3 213.5 761.5 216.8 762.8 218.9C764.1 221.0 763.1 223.2 767.7 224.3C772.3 225.4 787.5 224.4 790.6 225.5C793.8 226.6 788.3 228.8 786.6 230.8C784.9 232.9 782.4 236.0 780.6 237.8C778.8 239.6 775.4 240.5 775.7 241.8C776.0 243.1 780.6 243.9 782.6 245.7C784.6 247.5 785.8 250.4 787.6 252.7C789.4 255.0 792.1 257.4 793.6 259.7C795.1 262.0 797.3 264.4 796.6 266.6C795.9 268.9 790.3 271.5 789.6 273.2C788.9 274.9 792.3 275.2 792.6 276.6C792.9 278.0 791.3 279.7 791.6 281.5C791.9 283.3 795.3 285.3 794.6 287.5C793.9 289.7 790.1 292.5 787.6 294.5C785.1 296.5 781.2 297.6 779.7 299.4C778.2 301.2 778.1 303.7 778.7 305.4C779.4 307.1 781.5 308.6 783.6 309.4C785.8 310.2 788.6 309.9 791.6 310.4C794.6 310.9 799.2 310.8 801.5 312.3C803.8 313.8 804.3 316.5 805.5 319.3C806.7 322.1 808.2 326.3 808.5 329.3C808.8 332.3 808.5 335.1 807.5 337.2C806.5 339.3 804.3 341.5 802.5 342.2C800.7 342.9 797.3 340.9 796.6 341.6C795.9 342.3 797.2 344.3 798.5 346.2C799.8 348.1 803.2 350.6 804.5 353.1C805.8 355.6 805.8 357.8 806.5 361.1C807.2 364.4 807.3 370.0 808.5 373.0C809.7 376.0 811.4 376.9 813.5 379.0C815.6 381.1 818.1 384.4 821.4 385.9C824.7 387.4 830.4 386.2 833.3 387.9C836.2 389.6 837.2 393.2 838.8 395.9C840.4 398.6 840.6 401.1 842.8 403.9C844.9 406.7 849.2 409.8 851.7 412.8C854.2 415.8 855.7 418.8 857.7 421.8C859.7 424.8 860.6 428.1 863.6 430.7C866.6 433.3 872.0 435.5 875.6 437.7C879.2 439.9 882.7 442.6 885.5 443.6C888.3 444.6 890.2 444.3 892.5 443.6C894.8 442.9 897.2 439.6 899.4 439.3C901.5 439.0 903.4 440.1 905.4 441.6C907.4 443.2 909.2 447.2 911.4 448.6C913.5 450.0 916.6 448.7 918.3 450.0C920.0 451.3 920.9 454.4 921.7 456.6C922.5 458.9 922.2 461.0 923.3 463.5C924.4 466.0 926.3 469.4 928.3 471.5C930.3 473.6 932.7 475.5 935.2 475.8C937.7 476.1 940.6 474.7 943.2 473.5C945.9 472.3 948.6 469.8 951.1 468.5C953.6 467.2 956.3 465.7 958.1 465.5C959.9 465.3 961.1 465.9 962.1 467.5C963.1 469.1 963.6 472.4 964.0 475.4C964.4 478.4 964.4 482.4 964.6 485.4C964.8 488.4 964.3 490.6 965.0 493.3C965.7 496.0 967.2 498.6 969.0 501.3C970.8 504.0 974.0 506.6 976.0 509.3C978.0 512.0 980.2 514.2 981.0 517.2C981.8 520.2 981.7 523.8 981.0 527.1C980.3 530.4 977.8 533.5 977.0 537.1C976.2 540.8 975.7 545.4 976.0 549.0C976.3 552.6 977.5 556.4 979.0 559.0C980.5 561.6 982.8 563.6 984.9 564.9C987.0 566.2 989.2 567.1 991.9 566.9C994.5 566.7 998.0 565.5 1000.8 563.9C1003.6 562.2 1006.8 560.1 1008.8 557.0C1010.8 553.9 1011.8 549.3 1012.8 545.0C1013.8 540.7 1014.0 535.3 1014.7 531.1C1015.4 526.9 1016.6 521.9 1017.0 520.0M84.0 890.0C84.7 890.1 100.5 891.6 101.9 892.3C103.3 893.0 116.7 906.2 117.8 907.6C118.9 909.0 127.7 925.0 128.7 926.5C129.7 928.0 142.7 942.7 142.6 944.0C142.5 945.3 127.9 958.1 126.7 959.3C125.5 960.5 113.6 973.5 112.8 975.2C112.0 976.9 108.0 999.3 107.8 1001.1C107.6 1002.9 108.4 1019.6 108.8 1021.0C109.2 1022.4 118.1 1035.4 118.5 1036.0" fill="none" stroke="#000" stroke-width="3.4" stroke-linejoin="round" stroke-linecap="butt"/>
<path d="M539.5 330.49999999999994A215.3 215.3 0 0 0 539.5 761.0999999999999A215.3 215.3 0 0 0 539.5 330.49999999999994" fill="none" stroke="#000" stroke-width="4.17" stroke-dasharray="15.4 6.67"/>
<path d="M539.5 115.19999999999993A430.6 430.6 0 0 0 539.5 976.4A430.6 430.6 0 0 0 539.5 115.19999999999993" fill="none" stroke="#000" stroke-width="4.17" stroke-dasharray="15.4 6.67"/>
<path d="M536.9 545.8H542.1M539.5 543.1999999999999V548.4" stroke="#000" stroke-width="3.4" stroke-linecap="round" fill="none"/>
</g>
<text x="304" y="116.9" font-size="19.4" font-weight="bold" textLength="65.3" lengthAdjust="spacingAndGlyphs">16 km</text>
<text x="423.6" y="311.7" font-size="19.4" font-weight="bold" textLength="52" lengthAdjust="spacingAndGlyphs">8 km</text>
<rect x="85.5" y="45.4" width="930.1" height="989.0000000000001" fill="none" stroke="#000" stroke-width="1.1"/>
<text x="354.6" y="38.4" font-size="36.2" textLength="196.5" lengthAdjust="spacingAndGlyphs">26.11.2025</text>
<text x="564.8" y="38.4" font-size="36.2" textLength="99.5" lengthAdjust="spacingAndGlyphs">02:23</text>
<text x="676.3" y="38.4" font-size="36.2" textLength="69" lengthAdjust="spacingAndGlyphs">UTC</text>
<text x="37.7" y="80.1" font-size="17" textLength="39.5" lengthAdjust="spacingAndGlyphs">50°N</text>
<text x="11.2" y="231.1" font-size="17" textLength="66" lengthAdjust="spacingAndGlyphs">49.95°N</text>
<text x="21.7" y="381.1" font-size="17" textLength="55.5" lengthAdjust="spacingAndGlyphs">49.9°N</text>
<text x="11.2" y="531.1" font-size="17" textLength="66" lengthAdjust="spacingAndGlyphs">49.85°N</text>
<text x="21.7" y="680.1" font-size="17" textLength="55.5" lengthAdjust="spacingAndGlyphs">49.8°N</text>
<text x="11.2" y="830.1" font-size="17" textLength="66" lengthAdjust="spacingAndGlyphs">49.75°N</text>
<text x="21.7" y="979.1" font-size="17" textLength="55.5" lengthAdjust="spacingAndGlyphs">49.7°N</text>
<text x="141.2" y="1054.8" font-size="17" textLength="42.5" lengthAdjust="spacingAndGlyphs">5.9°E</text>
<text x="342.0" y="1054.8" font-size="17" textLength="27" lengthAdjust="spacingAndGlyphs">6°E</text>
<text x="528.2" y="1054.8" font-size="17" textLength="42.5" lengthAdjust="spacingAndGlyphs">6.1°E</text>
<text x="722.2" y="1054.8" font-size="17" textLength="42.5" lengthAdjust="spacingAndGlyphs">6.2°E</text>
<text x="916.2" y="1054.8" font-size="17" textLength="42.5" lengthAdjust="spacingAndGlyphs">6.3°E</text>
<rect x="1073.4" y="958.22" width="45.2" height="32.58" fill="#6478ac"/>
<rect x="1073.4" y="926.04" width="45.2" height="32.58" fill="#5368a5"/>
<rect x="1073.4" y="893.86" width="45.2" height="32.58" fill="#4560a6"/>
<rect x="1073.4" y="861.69" width="45.2" height="32.58" fill="#4b7cb5"/>
<rect x="1073.4" y="829.51" width="45.2" height="32.58" fill="#5aa0cc"/>
<rect x="1073.4" y="797.33" width="45.2" height="32.58" fill="#64c3de"/>
<rect x="1073.4" y="765.15" width="45.2" height="32.58" fill="#60d6c3"/>
<rect x="1073.4" y="732.97" width="45.2" height="32.58" fill="#3dd670"/>
<rect x="1073.4" y="700.79" width="45.2" height="32.58" fill="#14c81e"/>
<rect x="1073.4" y="668.61" width="45.2" height="32.58" fill="#12b41a"/>
<rect x="1073.4" y="636.44" width="45.2" height="32.58" fill="#10a216"/>
<rect x="1073.4" y="604.26" width="45.2" height="32.58" fill="#0e8e14"/>
<rect x="1073.4" y="572.08" width="45.2" height="32.58" fill="#0b7a10"/>
<rect x="1073.4" y="539.90" width="45.2" height="32.58" fill="#06640e"/>
<rect x="1073.4" y="507.72" width="45.2" height="32.58" fill="#477c0c"/>
<rect x="1073.4" y="475.54" width="45.2" height="32.58" fill="#b0b00a"/>
<rect x="1073.4" y="443.36" width="45.2" height="32.58" fill="#ffd800"/>
<rect x="1073.4" y="411.19" width="45.2" height="32.58" fill="#ffb800"/>
<rect x="1073.4" y="379.01" width="45.2" height="32.58" fill="#ff9c00"/>
<rect x="1073.4" y="346.83" width="45.2" height="32.58" fill="#ff7e00"/>
<rect x="1073.4" y="314.65" width="45.2" height="32.58" fill="#e60000"/>
<rect x="1073.4" y="282.47" width="45.2" height="32.58" fill="#c00000"/>
<rect x="1073.4" y="250.29" width="45.2" height="32.58" fill="#a00000"/>
<rect x="1073.4" y="218.11" width="45.2" height="32.58" fill="#7f0000"/>
<rect x="1073.4" y="185.94" width="45.2" height="32.58" fill="#ffdcff"/>
<rect x="1073.4" y="153.76" width="45.2" height="32.58" fill="#ffb0ff"/>
<rect x="1073.4" y="121.58" width="45.2" height="32.58" fill="#ff66fb"/>
<rect x="1073.4" y="89.40" width="45.2" height="32.58" fill="#ee33ee"/>
<rect x="1073.4" y="89.4" width="45.2" height="901.0" fill="none" stroke="#000" stroke-width="1.1"/>
<path d="M1118.6 990.4h4.9" stroke="#000" stroke-width="1.1"/>
<text x="1130" y="1000.4" font-size="28" textLength="15.5" lengthAdjust="spacingAndGlyphs">0</text>
<path d="M1118.6 861.7h4.9" stroke="#000" stroke-width="1.1"/>
<text x="1128.8" y="871.7" font-size="28" textLength="32.3" lengthAdjust="spacingAndGlyphs">10</text>
<path d="M1118.6 733.0h4.9" stroke="#000" stroke-width="1.1"/>
<text x="1128.8" y="743.0" font-size="28" textLength="32.3" lengthAdjust="spacingAndGlyphs">20</text>
<path d="M1118.6 604.3h4.9" stroke="#000" stroke-width="1.1"/>
<text x="1128.8" y="614.3" font-size="28" textLength="32.3" lengthAdjust="spacingAndGlyphs">30</text>
<path d="M1118.6 475.5h4.9" stroke="#000" stroke-width="1.1"/>
<text x="1128.8" y="485.5" font-size="28" textLength="32.3" lengthAdjust="spacingAndGlyphs">40</text>
<path d="M1118.6 346.8h4.9" stroke="#000" stroke-width="1.1"/>
<text x="1128.8" y="356.8" font-size="28" textLength="32.3" lengthAdjust="spacingAndGlyphs">50</text>
<path d="M1118.6 218.1h4.9" stroke="#000" stroke-width="1.1"/>
<text x="1128.8" y="228.1" font-size="28" textLength="32.3" lengthAdjust="spacingAndGlyphs">60</text>
<path d="M1118.6 89.4h4.9" stroke="#000" stroke-width="1.1"/>
<text x="1128.8" y="99.4" font-size="28" textLength="32.3" lengthAdjust="spacingAndGlyphs">70</text>
<text transform="translate(1192 569.6) rotate(-90)" font-size="28.4" textLength="54" lengthAdjust="spacingAndGlyphs">dBZ</text>
</svg></body></html>
